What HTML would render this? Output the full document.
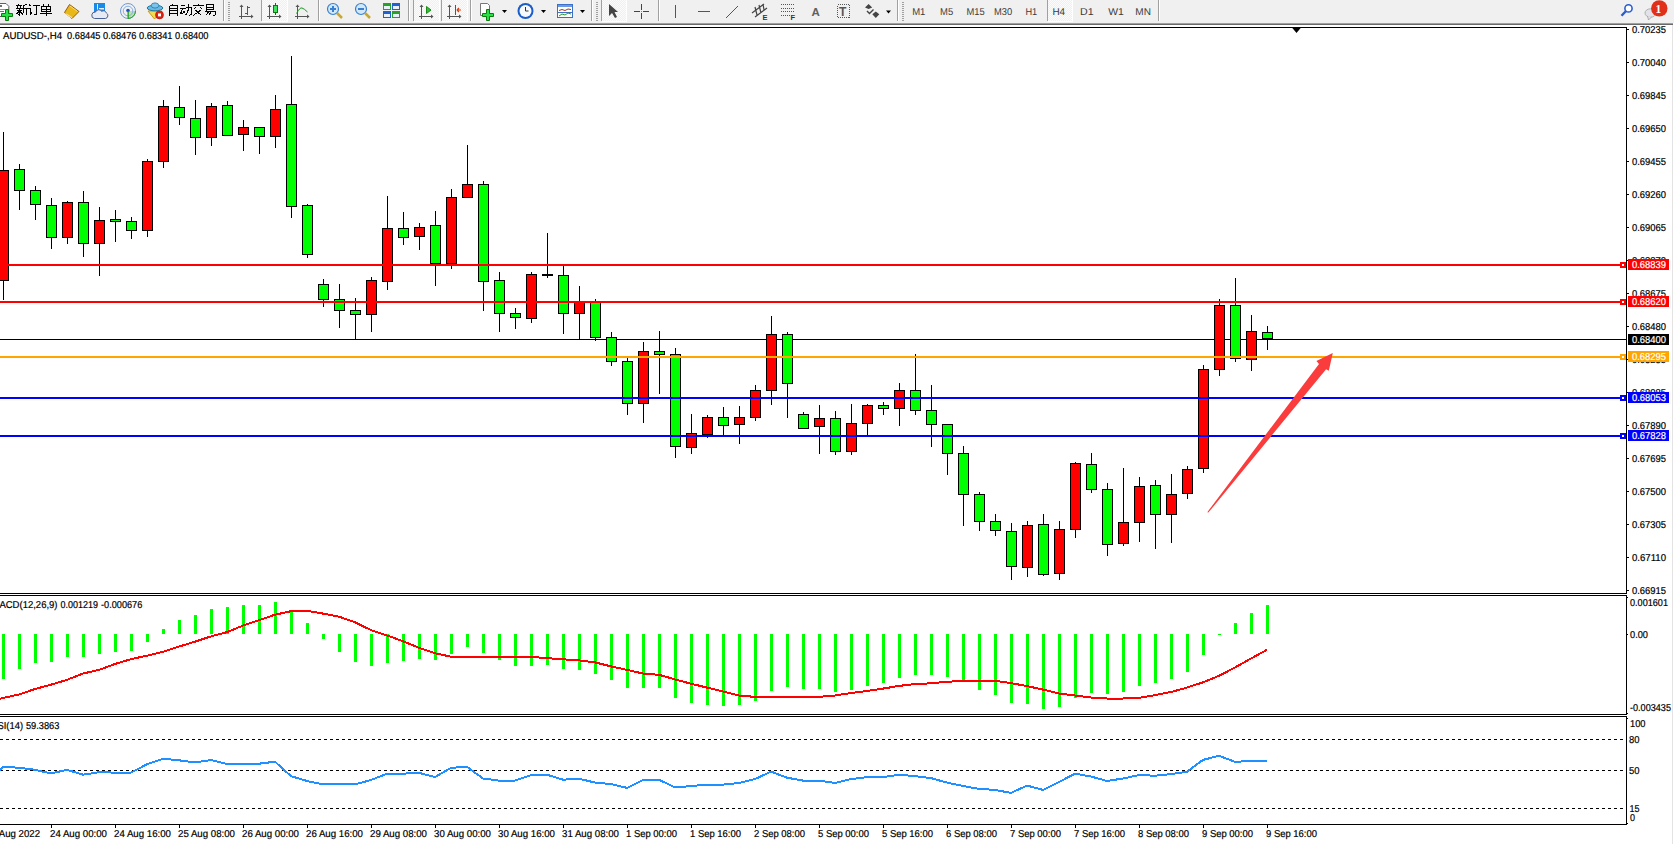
<!DOCTYPE html>
<html><head><meta charset="utf-8"><title>AUDUSD H4</title>
<style>
html,body{margin:0;padding:0;background:#fff;width:1674px;height:844px;overflow:hidden;font-family:"Liberation Sans",sans-serif}
svg{position:absolute;left:0;top:0;display:block}
</style></head><body>
<svg width="1674" height="844" viewBox="0 0 1674 844">
<defs><pattern id="chk" x="0" y="0" width="2" height="2" patternUnits="userSpaceOnUse"><rect width="2" height="2" fill="#f0f0f0"/><rect width="1" height="1" fill="#fbfbfb"/><rect x="1" y="1" width="1" height="1" fill="#fbfbfb"/></pattern></defs>
<g shape-rendering="crispEdges"><rect x="0" y="0" width="1674" height="23" fill="#f0f0f0"/>
<rect x="0" y="23" width="1673" height="1" fill="#a0a0a0"/>
<rect x="0" y="24" width="1673" height="1" fill="#6a6a6a"/>
<rect x="223" y="0" width="1" height="21" fill="#a0a0a0"/><rect x="224" y="0" width="1" height="21" fill="#fff"/>
<rect x="261" y="0" width="1" height="21" fill="#a0a0a0"/><rect x="262" y="0" width="1" height="21" fill="#fff"/>
<rect x="318" y="0" width="1" height="21" fill="#a0a0a0"/><rect x="319" y="0" width="1" height="21" fill="#fff"/>
<rect x="408" y="0" width="1" height="21" fill="#a0a0a0"/><rect x="409" y="0" width="1" height="21" fill="#fff"/>
<rect x="413" y="0" width="1" height="21" fill="#a0a0a0"/><rect x="414" y="0" width="1" height="21" fill="#fff"/>
<rect x="441" y="0" width="1" height="21" fill="#a0a0a0"/><rect x="442" y="0" width="1" height="21" fill="#fff"/>
<rect x="470" y="0" width="1" height="21" fill="#a0a0a0"/><rect x="471" y="0" width="1" height="21" fill="#fff"/>
<rect x="591" y="0" width="1" height="21" fill="#a0a0a0"/><rect x="592" y="0" width="1" height="21" fill="#fff"/>
<rect x="601" y="0" width="1" height="21" fill="#a0a0a0"/><rect x="602" y="0" width="1" height="21" fill="#fff"/>
<rect x="658" y="0" width="1" height="21" fill="#a0a0a0"/><rect x="659" y="0" width="1" height="21" fill="#fff"/>
<rect x="897" y="0" width="1" height="21" fill="#a0a0a0"/><rect x="898" y="0" width="1" height="21" fill="#fff"/>
<rect x="1047" y="0" width="1" height="21" fill="#a0a0a0"/><rect x="1048" y="0" width="1" height="21" fill="#fff"/>
<rect x="1158" y="0" width="1" height="21" fill="#a0a0a0"/><rect x="1159" y="0" width="1" height="21" fill="#fff"/>
<rect x="228" y="2" width="2" height="1" fill="#a0a0a0"/>
<rect x="228" y="4" width="2" height="1" fill="#a0a0a0"/>
<rect x="228" y="6" width="2" height="1" fill="#a0a0a0"/>
<rect x="228" y="8" width="2" height="1" fill="#a0a0a0"/>
<rect x="228" y="10" width="2" height="1" fill="#a0a0a0"/>
<rect x="228" y="12" width="2" height="1" fill="#a0a0a0"/>
<rect x="228" y="14" width="2" height="1" fill="#a0a0a0"/>
<rect x="228" y="16" width="2" height="1" fill="#a0a0a0"/>
<rect x="228" y="18" width="2" height="1" fill="#a0a0a0"/>
<rect x="228" y="20" width="2" height="1" fill="#a0a0a0"/>
<rect x="596" y="2" width="2" height="1" fill="#a0a0a0"/>
<rect x="596" y="4" width="2" height="1" fill="#a0a0a0"/>
<rect x="596" y="6" width="2" height="1" fill="#a0a0a0"/>
<rect x="596" y="8" width="2" height="1" fill="#a0a0a0"/>
<rect x="596" y="10" width="2" height="1" fill="#a0a0a0"/>
<rect x="596" y="12" width="2" height="1" fill="#a0a0a0"/>
<rect x="596" y="14" width="2" height="1" fill="#a0a0a0"/>
<rect x="596" y="16" width="2" height="1" fill="#a0a0a0"/>
<rect x="596" y="18" width="2" height="1" fill="#a0a0a0"/>
<rect x="596" y="20" width="2" height="1" fill="#a0a0a0"/>
<rect x="902" y="2" width="2" height="1" fill="#a0a0a0"/>
<rect x="902" y="4" width="2" height="1" fill="#a0a0a0"/>
<rect x="902" y="6" width="2" height="1" fill="#a0a0a0"/>
<rect x="902" y="8" width="2" height="1" fill="#a0a0a0"/>
<rect x="902" y="10" width="2" height="1" fill="#a0a0a0"/>
<rect x="902" y="12" width="2" height="1" fill="#a0a0a0"/>
<rect x="902" y="14" width="2" height="1" fill="#a0a0a0"/>
<rect x="902" y="16" width="2" height="1" fill="#a0a0a0"/>
<rect x="902" y="18" width="2" height="1" fill="#a0a0a0"/>
<rect x="902" y="20" width="2" height="1" fill="#a0a0a0"/>
<rect x="262" y="0" width="25" height="21" fill="url(#chk)"/>
<rect x="287" y="0" width="1" height="22" fill="#fff"/><rect x="262" y="21" width="26" height="1" fill="#fff"/>
<rect x="414" y="0" width="25" height="21" fill="url(#chk)"/>
<rect x="439" y="0" width="1" height="22" fill="#fff"/><rect x="414" y="21" width="26" height="1" fill="#fff"/>
<rect x="442" y="0" width="25" height="21" fill="url(#chk)"/>
<rect x="467" y="0" width="1" height="22" fill="#fff"/><rect x="442" y="21" width="26" height="1" fill="#fff"/>
<rect x="602" y="0" width="24" height="21" fill="url(#chk)"/>
<rect x="626" y="0" width="1" height="22" fill="#fff"/><rect x="602" y="21" width="25" height="1" fill="#fff"/>
<rect x="1048" y="0" width="24" height="21" fill="url(#chk)"/>
<rect x="1072" y="0" width="1" height="22" fill="#fff"/><rect x="1048" y="21" width="25" height="1" fill="#fff"/></g>

<!-- new order icon -->
<path d="M-1.5 3.5 h7.5 l2.8 2.8 v10.2 h-10.3 z" fill="#fff" stroke="#606060" stroke-width="1"/>
<rect x="0" y="5" width="2" height="2" fill="#707070"/><rect x="0" y="11" width="4" height="1" fill="#707070"/><rect x="-1" y="9" width="6" height="1" fill="#909090"/>
<path d="M5.5 9.5 h3 v4 h4 v3 h-4 v4 h-3 v-4 h-4 v-3 h4 z" fill="#28e048" stroke="#0a7a0a" stroke-width="1"/>
<!-- yellow book -->
<path d="M64.5 12.5 L69.5 4.5 L79 11.5 L72 18.5 Z" fill="#e8b818" stroke="#9a5a08" stroke-width="1"/>
<path d="M65.5 13.5 L72 17.8" stroke="#f6e0a0" stroke-width="1.2"/>
<path d="M70 6 L77.5 11.5" stroke="#f8e078" stroke-width="1"/>
<!-- cloud/blue icon -->
<rect x="94" y="3" width="11" height="10" fill="#1a8ae8"/>
<path d="M97.5 4 v9" stroke="#e0f0ff" stroke-width="1"/>
<rect x="99" y="8" width="5" height="1.5" fill="#e0f0ff"/>
<path d="M94.5 18.5 h11 a3 3 0 0 0 0.8 -5.6 a3 3 0 0 0 -4.6 -1.6 a3.5 3.5 0 0 0 -6.2 0.8 a3 3 0 0 0 -1 6.4 z" fill="#e6eaf2" stroke="#4a6090" stroke-width="1"/>
<!-- radar -->
<path d="M128 11 L128 18.5 A7.5 7.5 0 0 0 135.5 11 Z" fill="#b8e0b0"/>
<circle cx="128" cy="11" r="7.5" fill="none" stroke="#6f9ad8" stroke-width="1"/>
<circle cx="128" cy="11" r="4.8" fill="none" stroke="#8ab0e0" stroke-width="1"/>
<path d="M128 18.5 A7.5 7.5 0 0 0 135.5 11" fill="none" stroke="#3a9a3a" stroke-width="1"/>
<circle cx="128" cy="10.5" r="1.8" fill="#2050c0"/>
<rect x="127.5" y="11" width="1.3" height="7.5" fill="#20a020"/>
<!-- auto trading -->
<path d="M148 11 L162 11 L154.5 19 Z" fill="#f4dc50" stroke="#c89a18" stroke-width="1"/>
<ellipse cx="155" cy="8" rx="7.8" ry="2.8" fill="#6ab8e8" stroke="#1a7aa0" stroke-width="1"/>
<ellipse cx="155" cy="5.5" rx="3.8" ry="2.6" fill="#7cc4ec" stroke="#1a7aa0" stroke-width="0.8"/>
<circle cx="159.5" cy="14.9" r="4" fill="#e02010" stroke="#b01008" stroke-width="0.6"/><rect x="158" y="13.4" width="3" height="3" fill="#fff"/>
<!-- bar chart -->
<g fill="#555"><rect x="241" y="6" width="1" height="13"/><rect x="239" y="16" width="12" height="1"/><path d="M239.5 7 L241.5 4.5 L243.5 7 Z"/><path d="M251 14.5 L253.5 16.5 L251 18.5 Z"/></g><g fill="#118a11"><rect x="247" y="6" width="1" height="9"/><rect x="248" y="7" width="2" height="1"/><rect x="245" y="13" width="2" height="1"/></g>
<!-- candle icon -->
<g fill="#555"><rect x="269" y="6" width="1" height="13"/><rect x="267" y="16" width="12" height="1"/><path d="M267.5 7 L269.5 4.5 L271.5 7 Z"/><path d="M279 14.5 L281.5 16.5 L279 18.5 Z"/></g><rect x="275" y="3" width="1" height="12" fill="#0a7a0a"/><rect x="273.5" y="5.5" width="4" height="7" fill="#40e060" stroke="#0a7a0a" stroke-width="1"/>
<!-- line chart icon -->
<g fill="#555"><rect x="297" y="6" width="1" height="13"/><rect x="295" y="16" width="12" height="1"/><path d="M295.5 7 L297.5 4.5 L299.5 7 Z"/><path d="M307 14.5 L309.5 16.5 L307 18.5 Z"/></g><path d="M296.5 13.5 Q300 7 302 8 Q304 8.5 307.5 12" fill="none" stroke="#1a9a1a" stroke-width="1"/>
<!-- auto scroll -->
<g fill="#555"><rect x="421" y="6" width="1" height="13"/><rect x="419" y="16" width="12" height="1"/><path d="M419.5 7 L421.5 4.5 L423.5 7 Z"/><path d="M431 14.5 L433.5 16.5 L431 18.5 Z"/></g><path d="M426.5 6.5 L431 10 L426.5 13.5 Z" fill="#30c030" stroke="#1a8a1a" stroke-width="1"/>
<!-- chart shift -->
<g fill="#555"><rect x="449" y="6" width="1" height="13"/><rect x="447" y="16" width="12" height="1"/><path d="M447.5 7 L449.5 4.5 L451.5 7 Z"/><path d="M459 14.5 L461.5 16.5 L459 18.5 Z"/></g><rect x="455" y="5" width="1" height="10" fill="#2060b0"/><path d="M461 10 L457 10 M457 10 L459 8 M457 10 L459 12" stroke="#d04010" stroke-width="1.2"/>
<!-- zoom in/out -->
<circle cx="333" cy="9" r="5.5" fill="#d0e8f8" stroke="#3a80d0" stroke-width="1.2"/>
<path d="M337 13 L342 18" stroke="#c8a830" stroke-width="2.5"/>
<rect x="330" y="8" width="6" height="2" fill="#3a80d0"/><rect x="332" y="6" width="2" height="6" fill="#3a80d0"/>
<circle cx="361" cy="9" r="5.5" fill="#d0e8f8" stroke="#3a80d0" stroke-width="1.2"/>
<path d="M365 13 L370 18" stroke="#c8a830" stroke-width="2.5"/>
<rect x="358" y="8" width="6" height="2" fill="#3a80d0"/>
<!-- tile windows -->
<rect x="383" y="3" width="8" height="7" fill="#2aa02a"/><rect x="392" y="3" width="8" height="7" fill="#2060d0"/>
<rect x="383" y="11" width="8" height="7" fill="#2060d0"/><rect x="392" y="11" width="8" height="7" fill="#2aa02a"/>
<g fill="#e8f0f8"><rect x="384" y="6" width="6" height="3"/><rect x="393" y="6" width="6" height="3"/><rect x="384" y="14" width="6" height="3"/><rect x="393" y="14" width="6" height="3"/></g>
<!-- indicators -->
<path d="M480.5 3.5 h7 l2 2 v10 h-9 z" fill="#fff" stroke="#777" stroke-width="1"/>
<path d="M486.5 9.5 h3 v4 h4 v3 h-4 v4 h-3 v-4 h-4 v-3 h4 z" fill="#28e048" stroke="#0a7a0a" stroke-width="1"/>
<path d="M502 10 h5 l-2.5 3 z" fill="#000"/>
<!-- clock -->
<circle cx="525.5" cy="11" r="8" fill="#1a5cc8"/><circle cx="525.5" cy="11" r="6" fill="#f6f9fc"/>
<path d="M525.5 7 v4 h3" fill="none" stroke="#333" stroke-width="1"/>
<path d="M541 10 h5 l-2.5 3 z" fill="#000"/>
<!-- templates -->
<rect x="557.5" y="4.5" width="15" height="13" fill="#fff" stroke="#3a70c8" stroke-width="1"/>
<rect x="558" y="5" width="14" height="2" fill="#6a9ae0"/>
<path d="M559 10.5 l3 -1 l3 1 l3 -1.5 l3 0.5" fill="none" stroke="#b03020" stroke-width="1"/><rect x="558" y="12" width="14" height="1" fill="#3a70c8"/>
<path d="M559 16 l3 -2 l3 1 l3 -2 l3 1" fill="none" stroke="#20a020" stroke-width="1"/>
<path d="M580 10 h5 l-2.5 3 z" fill="#000"/>
<!-- cursor -->
<path d="M609 4 L609 16 L612 13 L615 18 L617 17 L614.5 12 L618 12 Z" fill="#444"/>
<!-- crosshair -->
<g fill="#444"><rect x="641" y="4" width="1" height="6"/><rect x="641" y="13" width="1" height="6"/><rect x="634" y="11" width="6" height="1"/><rect x="643" y="11" width="6" height="1"/><rect x="641" y="11" width="1" height="1" fill="#888"/></g>
<!-- vertical line -->
<rect x="675" y="5" width="1" height="13" fill="#555"/>
<!-- horizontal line -->
<rect x="698" y="11" width="12" height="1" fill="#555"/>
<!-- trendline -->
<path d="M726 18 L738 6" stroke="#555" stroke-width="1"/>
<!-- channel E -->
<path d="M752 13 L764 4 M755 17 L767 8 M755 7 L757 15 M759 5 L761 13 M763 4 L764 10" stroke="#444" stroke-width="1.2"/>
<text x="762.5" y="19.5" font-size="7.5" font-weight="bold" fill="#333" font-family="Liberation Sans, sans-serif">E</text>
<!-- fib F -->
<path d="M781 4.5 h13 M781 8.5 h13 M781 11.5 h13 M781 15.5 h9" stroke="#555" stroke-width="1" stroke-dasharray="1,1" shape-rendering="crispEdges"/>
<text x="790.5" y="19.5" font-size="7.5" font-weight="bold" fill="#333" font-family="Liberation Sans, sans-serif">F</text>
<!-- A -->
<text x="811.5" y="16" font-size="11.5" font-weight="bold" fill="#606060" font-family="Liberation Sans, sans-serif">A</text>
<!-- T box -->
<rect x="837.5" y="4.5" width="12" height="13" fill="none" stroke="#555" stroke-width="1" stroke-dasharray="1,1" shape-rendering="crispEdges"/>
<text x="839" y="16" font-size="12" font-weight="bold" fill="#555" font-family="Liberation Sans, sans-serif">T</text>
<!-- arrows -->
<path d="M865 7.5 L868.6 4 L872.2 7.5 L868.6 9 Z M872.3 14.3 L875.8 11.5 L879.3 14.3 L875.8 18 Z" fill="#444"/>
<path d="M867 11 L869.5 13.5 L873.5 9.5" fill="none" stroke="#444" stroke-width="1.4"/>
<path d="M886 10.5 h5 l-2.5 3 z" fill="#000"/>

<path transform="translate(16,4)" d="M2.5,0 v1.5 M0,1.5 h6 M1.5,2.5 l0.6,1.5 M4.5,2.5 l-0.6,1.5 M0,4.5 h6.5 M0.5,6.5 h5.5 M3.5,4.5 v6.5 l-1,-0.5 M3,7.5 l-2.5,2.5 M4,7.5 l1.8,1.8 M11,0.3 l-3.5,1.5 M7.5,1.8 v6 l-1.2,3 M7.5,4.5 h4.5 M10,4.5 v6.8" fill="none" stroke="#000" stroke-width="1" shape-rendering="crispEdges"/><path transform="translate(28,4)" d="M1,0.5 l1.3,1.5 M0.3,4.5 h2 v5.5 l1.6,-1.6 M4.5,1.5 h7.2 M8.5,1.5 v9.3 l-2,-0.6" fill="none" stroke="#000" stroke-width="1" shape-rendering="crispEdges"/><path transform="translate(40,4)" d="M3,0 l1,1.5 M9,0 l-1,1.5 M1.5,2.5 h9 v5 h-9 z M1.5,5 h9 M6,2.5 v9.5 M0,9 h12" fill="none" stroke="#000" stroke-width="1" shape-rendering="crispEdges"/><path transform="translate(168,4)" d="M5.2,0 l-0.8,1.5 M1.5,1.5 v10 M9.5,1.5 v10 M1.5,1.5 h8 M1.5,4 h8 M1.5,6.5 h8 M1.5,9.5 h8" fill="none" stroke="#000" stroke-width="1" shape-rendering="crispEdges"/><path transform="translate(180,4)" d="M0.8,1.5 h4 M0,4 h5.5 M2.8,4 l-2.2,5.5 l4.2,-0.8 M3.6,7 l1.5,2.2 M6,3.5 h5 v7 l-1.6,0.8 M8.5,0.3 v3.5 q0,4.5 -3,7.5" fill="none" stroke="#000" stroke-width="1" shape-rendering="crispEdges"/><path transform="translate(192,4)" d="M6,0 v1.2 M0.5,1.5 h11 M4,3 l-2.5,2.5 M8,3 l2.5,2.5 M3.2,6 l6.3,5.5 M8.8,6 l-7.5,5.5" fill="none" stroke="#000" stroke-width="1" shape-rendering="crispEdges"/><path transform="translate(204,4)" d="M2.5,0.5 h7 v5 h-7 z M2.5,3 h7 M2.5,6.3 l-2,2 M2,7.5 h9 v3.5 l-1.5,0.6 M4.8,7.5 l-2.8,3.8 M7.5,7.5 l-2.8,3.8" fill="none" stroke="#000" stroke-width="1" shape-rendering="crispEdges"/>
<text x="912.2" y="15" font-size="10" fill="#3a3a3a" textLength="13.2" lengthAdjust="spacingAndGlyphs" text-rendering="geometricPrecision" font-family="Liberation Sans, sans-serif">M1</text><text x="940.1" y="15" font-size="10" fill="#3a3a3a" textLength="13.1" lengthAdjust="spacingAndGlyphs" text-rendering="geometricPrecision" font-family="Liberation Sans, sans-serif">M5</text><text x="966.4" y="15" font-size="10" fill="#3a3a3a" textLength="18.200000000000003" lengthAdjust="spacingAndGlyphs" text-rendering="geometricPrecision" font-family="Liberation Sans, sans-serif">M15</text><text x="994.0" y="15" font-size="10" fill="#3a3a3a" textLength="18.200000000000003" lengthAdjust="spacingAndGlyphs" text-rendering="geometricPrecision" font-family="Liberation Sans, sans-serif">M30</text><text x="1025.3999999999999" y="15" font-size="10" fill="#3a3a3a" textLength="11.799999999999999" lengthAdjust="spacingAndGlyphs" text-rendering="geometricPrecision" font-family="Liberation Sans, sans-serif">H1</text><text x="1052.3999999999999" y="15" font-size="10" fill="#3a3a3a" textLength="12.7" lengthAdjust="spacingAndGlyphs" text-rendering="geometricPrecision" font-family="Liberation Sans, sans-serif">H4</text><text x="1080.1" y="15" font-size="10" fill="#3a3a3a" textLength="13.6" lengthAdjust="spacingAndGlyphs" text-rendering="geometricPrecision" font-family="Liberation Sans, sans-serif">D1</text><text x="1108.1999999999998" y="15" font-size="10" fill="#3a3a3a" textLength="15.6" lengthAdjust="spacingAndGlyphs" text-rendering="geometricPrecision" font-family="Liberation Sans, sans-serif">W1</text><text x="1135.3" y="15" font-size="10" fill="#3a3a3a" textLength="15.6" lengthAdjust="spacingAndGlyphs" text-rendering="geometricPrecision" font-family="Liberation Sans, sans-serif">MN</text>

<circle cx="1628.5" cy="8.4" r="3.6" fill="#fff" stroke="#2a5cd0" stroke-width="1.6"/>
<path d="M1625.8 11.2 L1621.5 15.8" stroke="#2a5cd0" stroke-width="2.4"/>
<ellipse cx="1650.5" cy="13" rx="5.5" ry="4.2" fill="#e2e2ea" stroke="#b0b0b0" stroke-width="1"/>
<path d="M1647.5 16 L1648.5 20 L1651.5 17" fill="#e2e2ea" stroke="#a0a0a0" stroke-width="0.8"/>
<circle cx="1659.3" cy="8.4" r="8.2" fill="#e0301a"/>
<text x="1655.6" y="12.9" font-size="11.5" font-weight="bold" fill="#fff" font-family="Liberation Serif, serif">1</text>

<g shape-rendering="crispEdges">
<rect x="0" y="27" width="1627" height="1" fill="#000"/>
<rect x="0" y="593" width="1627" height="1" fill="#000"/>
<rect x="1626" y="27" width="1" height="567" fill="#000"/>
<rect x="0" y="595" width="1627" height="1" fill="#000"/>
<rect x="0" y="714" width="1627" height="1" fill="#000"/>
<rect x="1626" y="595" width="1" height="120" fill="#000"/>
<rect x="0" y="716" width="1627" height="1" fill="#000"/>
<rect x="0" y="824" width="1627" height="1" fill="#000"/>
<rect x="1626" y="716" width="1" height="109" fill="#000"/>
<rect x="1672" y="25" width="1" height="819" fill="#e3e3e3"/>
<rect x="1627" y="29" width="2" height="1" fill="#000"/>
<rect x="1627" y="62" width="2" height="1" fill="#000"/>
<rect x="1627" y="95" width="2" height="1" fill="#000"/>
<rect x="1627" y="128" width="2" height="1" fill="#000"/>
<rect x="1627" y="161" width="2" height="1" fill="#000"/>
<rect x="1627" y="194" width="2" height="1" fill="#000"/>
<rect x="1627" y="227" width="2" height="1" fill="#000"/>
<rect x="1627" y="260" width="2" height="1" fill="#000"/>
<rect x="1627" y="293" width="2" height="1" fill="#000"/>
<rect x="1627" y="326" width="2" height="1" fill="#000"/>
<rect x="1627" y="359" width="2" height="1" fill="#000"/>
<rect x="1627" y="392" width="2" height="1" fill="#000"/>
<rect x="1627" y="425" width="2" height="1" fill="#000"/>
<rect x="1627" y="458" width="2" height="1" fill="#000"/>
<rect x="1627" y="491" width="2" height="1" fill="#000"/>
<rect x="1627" y="524" width="2" height="1" fill="#000"/>
<rect x="1627" y="557" width="2" height="1" fill="#000"/>
<rect x="1627" y="590" width="2" height="1" fill="#000"/>
<rect x="1627" y="597" width="1" height="1" fill="#000"/>
<rect x="1627" y="634" width="1" height="1" fill="#000"/>
<rect x="1627" y="713" width="1" height="1" fill="#000"/>
<rect x="1627" y="718" width="1" height="1" fill="#000"/>
<rect x="1627" y="823" width="1" height="1" fill="#000"/>
<rect x="51" y="825" width="1" height="3" fill="#000"/>
<rect x="115" y="825" width="1" height="3" fill="#000"/>
<rect x="179" y="825" width="1" height="3" fill="#000"/>
<rect x="243" y="825" width="1" height="3" fill="#000"/>
<rect x="307" y="825" width="1" height="3" fill="#000"/>
<rect x="371" y="825" width="1" height="3" fill="#000"/>
<rect x="435" y="825" width="1" height="3" fill="#000"/>
<rect x="499" y="825" width="1" height="3" fill="#000"/>
<rect x="563" y="825" width="1" height="3" fill="#000"/>
<rect x="627" y="825" width="1" height="3" fill="#000"/>
<rect x="691" y="825" width="1" height="3" fill="#000"/>
<rect x="755" y="825" width="1" height="3" fill="#000"/>
<rect x="819" y="825" width="1" height="3" fill="#000"/>
<rect x="883" y="825" width="1" height="3" fill="#000"/>
<rect x="947" y="825" width="1" height="3" fill="#000"/>
<rect x="1011" y="825" width="1" height="3" fill="#000"/>
<rect x="1075" y="825" width="1" height="3" fill="#000"/>
<rect x="1139" y="825" width="1" height="3" fill="#000"/>
<rect x="1203" y="825" width="1" height="3" fill="#000"/>
<rect x="1267" y="825" width="1" height="3" fill="#000"/>
<rect x="0" y="739" width="3" height="1" fill="#000"/>
<rect x="6" y="739" width="3" height="1" fill="#000"/>
<rect x="12" y="739" width="3" height="1" fill="#000"/>
<rect x="18" y="739" width="3" height="1" fill="#000"/>
<rect x="24" y="739" width="3" height="1" fill="#000"/>
<rect x="30" y="739" width="3" height="1" fill="#000"/>
<rect x="36" y="739" width="3" height="1" fill="#000"/>
<rect x="42" y="739" width="3" height="1" fill="#000"/>
<rect x="48" y="739" width="3" height="1" fill="#000"/>
<rect x="54" y="739" width="3" height="1" fill="#000"/>
<rect x="60" y="739" width="3" height="1" fill="#000"/>
<rect x="66" y="739" width="3" height="1" fill="#000"/>
<rect x="72" y="739" width="3" height="1" fill="#000"/>
<rect x="78" y="739" width="3" height="1" fill="#000"/>
<rect x="84" y="739" width="3" height="1" fill="#000"/>
<rect x="90" y="739" width="3" height="1" fill="#000"/>
<rect x="96" y="739" width="3" height="1" fill="#000"/>
<rect x="102" y="739" width="3" height="1" fill="#000"/>
<rect x="108" y="739" width="3" height="1" fill="#000"/>
<rect x="114" y="739" width="3" height="1" fill="#000"/>
<rect x="120" y="739" width="3" height="1" fill="#000"/>
<rect x="126" y="739" width="3" height="1" fill="#000"/>
<rect x="132" y="739" width="3" height="1" fill="#000"/>
<rect x="138" y="739" width="3" height="1" fill="#000"/>
<rect x="144" y="739" width="3" height="1" fill="#000"/>
<rect x="150" y="739" width="3" height="1" fill="#000"/>
<rect x="156" y="739" width="3" height="1" fill="#000"/>
<rect x="162" y="739" width="3" height="1" fill="#000"/>
<rect x="168" y="739" width="3" height="1" fill="#000"/>
<rect x="174" y="739" width="3" height="1" fill="#000"/>
<rect x="180" y="739" width="3" height="1" fill="#000"/>
<rect x="186" y="739" width="3" height="1" fill="#000"/>
<rect x="192" y="739" width="3" height="1" fill="#000"/>
<rect x="198" y="739" width="3" height="1" fill="#000"/>
<rect x="204" y="739" width="3" height="1" fill="#000"/>
<rect x="210" y="739" width="3" height="1" fill="#000"/>
<rect x="216" y="739" width="3" height="1" fill="#000"/>
<rect x="222" y="739" width="3" height="1" fill="#000"/>
<rect x="228" y="739" width="3" height="1" fill="#000"/>
<rect x="234" y="739" width="3" height="1" fill="#000"/>
<rect x="240" y="739" width="3" height="1" fill="#000"/>
<rect x="246" y="739" width="3" height="1" fill="#000"/>
<rect x="252" y="739" width="3" height="1" fill="#000"/>
<rect x="258" y="739" width="3" height="1" fill="#000"/>
<rect x="264" y="739" width="3" height="1" fill="#000"/>
<rect x="270" y="739" width="3" height="1" fill="#000"/>
<rect x="276" y="739" width="3" height="1" fill="#000"/>
<rect x="282" y="739" width="3" height="1" fill="#000"/>
<rect x="288" y="739" width="3" height="1" fill="#000"/>
<rect x="294" y="739" width="3" height="1" fill="#000"/>
<rect x="300" y="739" width="3" height="1" fill="#000"/>
<rect x="306" y="739" width="3" height="1" fill="#000"/>
<rect x="312" y="739" width="3" height="1" fill="#000"/>
<rect x="318" y="739" width="3" height="1" fill="#000"/>
<rect x="324" y="739" width="3" height="1" fill="#000"/>
<rect x="330" y="739" width="3" height="1" fill="#000"/>
<rect x="336" y="739" width="3" height="1" fill="#000"/>
<rect x="342" y="739" width="3" height="1" fill="#000"/>
<rect x="348" y="739" width="3" height="1" fill="#000"/>
<rect x="354" y="739" width="3" height="1" fill="#000"/>
<rect x="360" y="739" width="3" height="1" fill="#000"/>
<rect x="366" y="739" width="3" height="1" fill="#000"/>
<rect x="372" y="739" width="3" height="1" fill="#000"/>
<rect x="378" y="739" width="3" height="1" fill="#000"/>
<rect x="384" y="739" width="3" height="1" fill="#000"/>
<rect x="390" y="739" width="3" height="1" fill="#000"/>
<rect x="396" y="739" width="3" height="1" fill="#000"/>
<rect x="402" y="739" width="3" height="1" fill="#000"/>
<rect x="408" y="739" width="3" height="1" fill="#000"/>
<rect x="414" y="739" width="3" height="1" fill="#000"/>
<rect x="420" y="739" width="3" height="1" fill="#000"/>
<rect x="426" y="739" width="3" height="1" fill="#000"/>
<rect x="432" y="739" width="3" height="1" fill="#000"/>
<rect x="438" y="739" width="3" height="1" fill="#000"/>
<rect x="444" y="739" width="3" height="1" fill="#000"/>
<rect x="450" y="739" width="3" height="1" fill="#000"/>
<rect x="456" y="739" width="3" height="1" fill="#000"/>
<rect x="462" y="739" width="3" height="1" fill="#000"/>
<rect x="468" y="739" width="3" height="1" fill="#000"/>
<rect x="474" y="739" width="3" height="1" fill="#000"/>
<rect x="480" y="739" width="3" height="1" fill="#000"/>
<rect x="486" y="739" width="3" height="1" fill="#000"/>
<rect x="492" y="739" width="3" height="1" fill="#000"/>
<rect x="498" y="739" width="3" height="1" fill="#000"/>
<rect x="504" y="739" width="3" height="1" fill="#000"/>
<rect x="510" y="739" width="3" height="1" fill="#000"/>
<rect x="516" y="739" width="3" height="1" fill="#000"/>
<rect x="522" y="739" width="3" height="1" fill="#000"/>
<rect x="528" y="739" width="3" height="1" fill="#000"/>
<rect x="534" y="739" width="3" height="1" fill="#000"/>
<rect x="540" y="739" width="3" height="1" fill="#000"/>
<rect x="546" y="739" width="3" height="1" fill="#000"/>
<rect x="552" y="739" width="3" height="1" fill="#000"/>
<rect x="558" y="739" width="3" height="1" fill="#000"/>
<rect x="564" y="739" width="3" height="1" fill="#000"/>
<rect x="570" y="739" width="3" height="1" fill="#000"/>
<rect x="576" y="739" width="3" height="1" fill="#000"/>
<rect x="582" y="739" width="3" height="1" fill="#000"/>
<rect x="588" y="739" width="3" height="1" fill="#000"/>
<rect x="594" y="739" width="3" height="1" fill="#000"/>
<rect x="600" y="739" width="3" height="1" fill="#000"/>
<rect x="606" y="739" width="3" height="1" fill="#000"/>
<rect x="612" y="739" width="3" height="1" fill="#000"/>
<rect x="618" y="739" width="3" height="1" fill="#000"/>
<rect x="624" y="739" width="3" height="1" fill="#000"/>
<rect x="630" y="739" width="3" height="1" fill="#000"/>
<rect x="636" y="739" width="3" height="1" fill="#000"/>
<rect x="642" y="739" width="3" height="1" fill="#000"/>
<rect x="648" y="739" width="3" height="1" fill="#000"/>
<rect x="654" y="739" width="3" height="1" fill="#000"/>
<rect x="660" y="739" width="3" height="1" fill="#000"/>
<rect x="666" y="739" width="3" height="1" fill="#000"/>
<rect x="672" y="739" width="3" height="1" fill="#000"/>
<rect x="678" y="739" width="3" height="1" fill="#000"/>
<rect x="684" y="739" width="3" height="1" fill="#000"/>
<rect x="690" y="739" width="3" height="1" fill="#000"/>
<rect x="696" y="739" width="3" height="1" fill="#000"/>
<rect x="702" y="739" width="3" height="1" fill="#000"/>
<rect x="708" y="739" width="3" height="1" fill="#000"/>
<rect x="714" y="739" width="3" height="1" fill="#000"/>
<rect x="720" y="739" width="3" height="1" fill="#000"/>
<rect x="726" y="739" width="3" height="1" fill="#000"/>
<rect x="732" y="739" width="3" height="1" fill="#000"/>
<rect x="738" y="739" width="3" height="1" fill="#000"/>
<rect x="744" y="739" width="3" height="1" fill="#000"/>
<rect x="750" y="739" width="3" height="1" fill="#000"/>
<rect x="756" y="739" width="3" height="1" fill="#000"/>
<rect x="762" y="739" width="3" height="1" fill="#000"/>
<rect x="768" y="739" width="3" height="1" fill="#000"/>
<rect x="774" y="739" width="3" height="1" fill="#000"/>
<rect x="780" y="739" width="3" height="1" fill="#000"/>
<rect x="786" y="739" width="3" height="1" fill="#000"/>
<rect x="792" y="739" width="3" height="1" fill="#000"/>
<rect x="798" y="739" width="3" height="1" fill="#000"/>
<rect x="804" y="739" width="3" height="1" fill="#000"/>
<rect x="810" y="739" width="3" height="1" fill="#000"/>
<rect x="816" y="739" width="3" height="1" fill="#000"/>
<rect x="822" y="739" width="3" height="1" fill="#000"/>
<rect x="828" y="739" width="3" height="1" fill="#000"/>
<rect x="834" y="739" width="3" height="1" fill="#000"/>
<rect x="840" y="739" width="3" height="1" fill="#000"/>
<rect x="846" y="739" width="3" height="1" fill="#000"/>
<rect x="852" y="739" width="3" height="1" fill="#000"/>
<rect x="858" y="739" width="3" height="1" fill="#000"/>
<rect x="864" y="739" width="3" height="1" fill="#000"/>
<rect x="870" y="739" width="3" height="1" fill="#000"/>
<rect x="876" y="739" width="3" height="1" fill="#000"/>
<rect x="882" y="739" width="3" height="1" fill="#000"/>
<rect x="888" y="739" width="3" height="1" fill="#000"/>
<rect x="894" y="739" width="3" height="1" fill="#000"/>
<rect x="900" y="739" width="3" height="1" fill="#000"/>
<rect x="906" y="739" width="3" height="1" fill="#000"/>
<rect x="912" y="739" width="3" height="1" fill="#000"/>
<rect x="918" y="739" width="3" height="1" fill="#000"/>
<rect x="924" y="739" width="3" height="1" fill="#000"/>
<rect x="930" y="739" width="3" height="1" fill="#000"/>
<rect x="936" y="739" width="3" height="1" fill="#000"/>
<rect x="942" y="739" width="3" height="1" fill="#000"/>
<rect x="948" y="739" width="3" height="1" fill="#000"/>
<rect x="954" y="739" width="3" height="1" fill="#000"/>
<rect x="960" y="739" width="3" height="1" fill="#000"/>
<rect x="966" y="739" width="3" height="1" fill="#000"/>
<rect x="972" y="739" width="3" height="1" fill="#000"/>
<rect x="978" y="739" width="3" height="1" fill="#000"/>
<rect x="984" y="739" width="3" height="1" fill="#000"/>
<rect x="990" y="739" width="3" height="1" fill="#000"/>
<rect x="996" y="739" width="3" height="1" fill="#000"/>
<rect x="1002" y="739" width="3" height="1" fill="#000"/>
<rect x="1008" y="739" width="3" height="1" fill="#000"/>
<rect x="1014" y="739" width="3" height="1" fill="#000"/>
<rect x="1020" y="739" width="3" height="1" fill="#000"/>
<rect x="1026" y="739" width="3" height="1" fill="#000"/>
<rect x="1032" y="739" width="3" height="1" fill="#000"/>
<rect x="1038" y="739" width="3" height="1" fill="#000"/>
<rect x="1044" y="739" width="3" height="1" fill="#000"/>
<rect x="1050" y="739" width="3" height="1" fill="#000"/>
<rect x="1056" y="739" width="3" height="1" fill="#000"/>
<rect x="1062" y="739" width="3" height="1" fill="#000"/>
<rect x="1068" y="739" width="3" height="1" fill="#000"/>
<rect x="1074" y="739" width="3" height="1" fill="#000"/>
<rect x="1080" y="739" width="3" height="1" fill="#000"/>
<rect x="1086" y="739" width="3" height="1" fill="#000"/>
<rect x="1092" y="739" width="3" height="1" fill="#000"/>
<rect x="1098" y="739" width="3" height="1" fill="#000"/>
<rect x="1104" y="739" width="3" height="1" fill="#000"/>
<rect x="1110" y="739" width="3" height="1" fill="#000"/>
<rect x="1116" y="739" width="3" height="1" fill="#000"/>
<rect x="1122" y="739" width="3" height="1" fill="#000"/>
<rect x="1128" y="739" width="3" height="1" fill="#000"/>
<rect x="1134" y="739" width="3" height="1" fill="#000"/>
<rect x="1140" y="739" width="3" height="1" fill="#000"/>
<rect x="1146" y="739" width="3" height="1" fill="#000"/>
<rect x="1152" y="739" width="3" height="1" fill="#000"/>
<rect x="1158" y="739" width="3" height="1" fill="#000"/>
<rect x="1164" y="739" width="3" height="1" fill="#000"/>
<rect x="1170" y="739" width="3" height="1" fill="#000"/>
<rect x="1176" y="739" width="3" height="1" fill="#000"/>
<rect x="1182" y="739" width="3" height="1" fill="#000"/>
<rect x="1188" y="739" width="3" height="1" fill="#000"/>
<rect x="1194" y="739" width="3" height="1" fill="#000"/>
<rect x="1200" y="739" width="3" height="1" fill="#000"/>
<rect x="1206" y="739" width="3" height="1" fill="#000"/>
<rect x="1212" y="739" width="3" height="1" fill="#000"/>
<rect x="1218" y="739" width="3" height="1" fill="#000"/>
<rect x="1224" y="739" width="3" height="1" fill="#000"/>
<rect x="1230" y="739" width="3" height="1" fill="#000"/>
<rect x="1236" y="739" width="3" height="1" fill="#000"/>
<rect x="1242" y="739" width="3" height="1" fill="#000"/>
<rect x="1248" y="739" width="3" height="1" fill="#000"/>
<rect x="1254" y="739" width="3" height="1" fill="#000"/>
<rect x="1260" y="739" width="3" height="1" fill="#000"/>
<rect x="1266" y="739" width="3" height="1" fill="#000"/>
<rect x="1272" y="739" width="3" height="1" fill="#000"/>
<rect x="1278" y="739" width="3" height="1" fill="#000"/>
<rect x="1284" y="739" width="3" height="1" fill="#000"/>
<rect x="1290" y="739" width="3" height="1" fill="#000"/>
<rect x="1296" y="739" width="3" height="1" fill="#000"/>
<rect x="1302" y="739" width="3" height="1" fill="#000"/>
<rect x="1308" y="739" width="3" height="1" fill="#000"/>
<rect x="1314" y="739" width="3" height="1" fill="#000"/>
<rect x="1320" y="739" width="3" height="1" fill="#000"/>
<rect x="1326" y="739" width="3" height="1" fill="#000"/>
<rect x="1332" y="739" width="3" height="1" fill="#000"/>
<rect x="1338" y="739" width="3" height="1" fill="#000"/>
<rect x="1344" y="739" width="3" height="1" fill="#000"/>
<rect x="1350" y="739" width="3" height="1" fill="#000"/>
<rect x="1356" y="739" width="3" height="1" fill="#000"/>
<rect x="1362" y="739" width="3" height="1" fill="#000"/>
<rect x="1368" y="739" width="3" height="1" fill="#000"/>
<rect x="1374" y="739" width="3" height="1" fill="#000"/>
<rect x="1380" y="739" width="3" height="1" fill="#000"/>
<rect x="1386" y="739" width="3" height="1" fill="#000"/>
<rect x="1392" y="739" width="3" height="1" fill="#000"/>
<rect x="1398" y="739" width="3" height="1" fill="#000"/>
<rect x="1404" y="739" width="3" height="1" fill="#000"/>
<rect x="1410" y="739" width="3" height="1" fill="#000"/>
<rect x="1416" y="739" width="3" height="1" fill="#000"/>
<rect x="1422" y="739" width="3" height="1" fill="#000"/>
<rect x="1428" y="739" width="3" height="1" fill="#000"/>
<rect x="1434" y="739" width="3" height="1" fill="#000"/>
<rect x="1440" y="739" width="3" height="1" fill="#000"/>
<rect x="1446" y="739" width="3" height="1" fill="#000"/>
<rect x="1452" y="739" width="3" height="1" fill="#000"/>
<rect x="1458" y="739" width="3" height="1" fill="#000"/>
<rect x="1464" y="739" width="3" height="1" fill="#000"/>
<rect x="1470" y="739" width="3" height="1" fill="#000"/>
<rect x="1476" y="739" width="3" height="1" fill="#000"/>
<rect x="1482" y="739" width="3" height="1" fill="#000"/>
<rect x="1488" y="739" width="3" height="1" fill="#000"/>
<rect x="1494" y="739" width="3" height="1" fill="#000"/>
<rect x="1500" y="739" width="3" height="1" fill="#000"/>
<rect x="1506" y="739" width="3" height="1" fill="#000"/>
<rect x="1512" y="739" width="3" height="1" fill="#000"/>
<rect x="1518" y="739" width="3" height="1" fill="#000"/>
<rect x="1524" y="739" width="3" height="1" fill="#000"/>
<rect x="1530" y="739" width="3" height="1" fill="#000"/>
<rect x="1536" y="739" width="3" height="1" fill="#000"/>
<rect x="1542" y="739" width="3" height="1" fill="#000"/>
<rect x="1548" y="739" width="3" height="1" fill="#000"/>
<rect x="1554" y="739" width="3" height="1" fill="#000"/>
<rect x="1560" y="739" width="3" height="1" fill="#000"/>
<rect x="1566" y="739" width="3" height="1" fill="#000"/>
<rect x="1572" y="739" width="3" height="1" fill="#000"/>
<rect x="1578" y="739" width="3" height="1" fill="#000"/>
<rect x="1584" y="739" width="3" height="1" fill="#000"/>
<rect x="1590" y="739" width="3" height="1" fill="#000"/>
<rect x="1596" y="739" width="3" height="1" fill="#000"/>
<rect x="1602" y="739" width="3" height="1" fill="#000"/>
<rect x="1608" y="739" width="3" height="1" fill="#000"/>
<rect x="1614" y="739" width="3" height="1" fill="#000"/>
<rect x="1620" y="739" width="3" height="1" fill="#000"/>
<rect x="0" y="770" width="3" height="1" fill="#000"/>
<rect x="6" y="770" width="3" height="1" fill="#000"/>
<rect x="12" y="770" width="3" height="1" fill="#000"/>
<rect x="18" y="770" width="3" height="1" fill="#000"/>
<rect x="24" y="770" width="3" height="1" fill="#000"/>
<rect x="30" y="770" width="3" height="1" fill="#000"/>
<rect x="36" y="770" width="3" height="1" fill="#000"/>
<rect x="42" y="770" width="3" height="1" fill="#000"/>
<rect x="48" y="770" width="3" height="1" fill="#000"/>
<rect x="54" y="770" width="3" height="1" fill="#000"/>
<rect x="60" y="770" width="3" height="1" fill="#000"/>
<rect x="66" y="770" width="3" height="1" fill="#000"/>
<rect x="72" y="770" width="3" height="1" fill="#000"/>
<rect x="78" y="770" width="3" height="1" fill="#000"/>
<rect x="84" y="770" width="3" height="1" fill="#000"/>
<rect x="90" y="770" width="3" height="1" fill="#000"/>
<rect x="96" y="770" width="3" height="1" fill="#000"/>
<rect x="102" y="770" width="3" height="1" fill="#000"/>
<rect x="108" y="770" width="3" height="1" fill="#000"/>
<rect x="114" y="770" width="3" height="1" fill="#000"/>
<rect x="120" y="770" width="3" height="1" fill="#000"/>
<rect x="126" y="770" width="3" height="1" fill="#000"/>
<rect x="132" y="770" width="3" height="1" fill="#000"/>
<rect x="138" y="770" width="3" height="1" fill="#000"/>
<rect x="144" y="770" width="3" height="1" fill="#000"/>
<rect x="150" y="770" width="3" height="1" fill="#000"/>
<rect x="156" y="770" width="3" height="1" fill="#000"/>
<rect x="162" y="770" width="3" height="1" fill="#000"/>
<rect x="168" y="770" width="3" height="1" fill="#000"/>
<rect x="174" y="770" width="3" height="1" fill="#000"/>
<rect x="180" y="770" width="3" height="1" fill="#000"/>
<rect x="186" y="770" width="3" height="1" fill="#000"/>
<rect x="192" y="770" width="3" height="1" fill="#000"/>
<rect x="198" y="770" width="3" height="1" fill="#000"/>
<rect x="204" y="770" width="3" height="1" fill="#000"/>
<rect x="210" y="770" width="3" height="1" fill="#000"/>
<rect x="216" y="770" width="3" height="1" fill="#000"/>
<rect x="222" y="770" width="3" height="1" fill="#000"/>
<rect x="228" y="770" width="3" height="1" fill="#000"/>
<rect x="234" y="770" width="3" height="1" fill="#000"/>
<rect x="240" y="770" width="3" height="1" fill="#000"/>
<rect x="246" y="770" width="3" height="1" fill="#000"/>
<rect x="252" y="770" width="3" height="1" fill="#000"/>
<rect x="258" y="770" width="3" height="1" fill="#000"/>
<rect x="264" y="770" width="3" height="1" fill="#000"/>
<rect x="270" y="770" width="3" height="1" fill="#000"/>
<rect x="276" y="770" width="3" height="1" fill="#000"/>
<rect x="282" y="770" width="3" height="1" fill="#000"/>
<rect x="288" y="770" width="3" height="1" fill="#000"/>
<rect x="294" y="770" width="3" height="1" fill="#000"/>
<rect x="300" y="770" width="3" height="1" fill="#000"/>
<rect x="306" y="770" width="3" height="1" fill="#000"/>
<rect x="312" y="770" width="3" height="1" fill="#000"/>
<rect x="318" y="770" width="3" height="1" fill="#000"/>
<rect x="324" y="770" width="3" height="1" fill="#000"/>
<rect x="330" y="770" width="3" height="1" fill="#000"/>
<rect x="336" y="770" width="3" height="1" fill="#000"/>
<rect x="342" y="770" width="3" height="1" fill="#000"/>
<rect x="348" y="770" width="3" height="1" fill="#000"/>
<rect x="354" y="770" width="3" height="1" fill="#000"/>
<rect x="360" y="770" width="3" height="1" fill="#000"/>
<rect x="366" y="770" width="3" height="1" fill="#000"/>
<rect x="372" y="770" width="3" height="1" fill="#000"/>
<rect x="378" y="770" width="3" height="1" fill="#000"/>
<rect x="384" y="770" width="3" height="1" fill="#000"/>
<rect x="390" y="770" width="3" height="1" fill="#000"/>
<rect x="396" y="770" width="3" height="1" fill="#000"/>
<rect x="402" y="770" width="3" height="1" fill="#000"/>
<rect x="408" y="770" width="3" height="1" fill="#000"/>
<rect x="414" y="770" width="3" height="1" fill="#000"/>
<rect x="420" y="770" width="3" height="1" fill="#000"/>
<rect x="426" y="770" width="3" height="1" fill="#000"/>
<rect x="432" y="770" width="3" height="1" fill="#000"/>
<rect x="438" y="770" width="3" height="1" fill="#000"/>
<rect x="444" y="770" width="3" height="1" fill="#000"/>
<rect x="450" y="770" width="3" height="1" fill="#000"/>
<rect x="456" y="770" width="3" height="1" fill="#000"/>
<rect x="462" y="770" width="3" height="1" fill="#000"/>
<rect x="468" y="770" width="3" height="1" fill="#000"/>
<rect x="474" y="770" width="3" height="1" fill="#000"/>
<rect x="480" y="770" width="3" height="1" fill="#000"/>
<rect x="486" y="770" width="3" height="1" fill="#000"/>
<rect x="492" y="770" width="3" height="1" fill="#000"/>
<rect x="498" y="770" width="3" height="1" fill="#000"/>
<rect x="504" y="770" width="3" height="1" fill="#000"/>
<rect x="510" y="770" width="3" height="1" fill="#000"/>
<rect x="516" y="770" width="3" height="1" fill="#000"/>
<rect x="522" y="770" width="3" height="1" fill="#000"/>
<rect x="528" y="770" width="3" height="1" fill="#000"/>
<rect x="534" y="770" width="3" height="1" fill="#000"/>
<rect x="540" y="770" width="3" height="1" fill="#000"/>
<rect x="546" y="770" width="3" height="1" fill="#000"/>
<rect x="552" y="770" width="3" height="1" fill="#000"/>
<rect x="558" y="770" width="3" height="1" fill="#000"/>
<rect x="564" y="770" width="3" height="1" fill="#000"/>
<rect x="570" y="770" width="3" height="1" fill="#000"/>
<rect x="576" y="770" width="3" height="1" fill="#000"/>
<rect x="582" y="770" width="3" height="1" fill="#000"/>
<rect x="588" y="770" width="3" height="1" fill="#000"/>
<rect x="594" y="770" width="3" height="1" fill="#000"/>
<rect x="600" y="770" width="3" height="1" fill="#000"/>
<rect x="606" y="770" width="3" height="1" fill="#000"/>
<rect x="612" y="770" width="3" height="1" fill="#000"/>
<rect x="618" y="770" width="3" height="1" fill="#000"/>
<rect x="624" y="770" width="3" height="1" fill="#000"/>
<rect x="630" y="770" width="3" height="1" fill="#000"/>
<rect x="636" y="770" width="3" height="1" fill="#000"/>
<rect x="642" y="770" width="3" height="1" fill="#000"/>
<rect x="648" y="770" width="3" height="1" fill="#000"/>
<rect x="654" y="770" width="3" height="1" fill="#000"/>
<rect x="660" y="770" width="3" height="1" fill="#000"/>
<rect x="666" y="770" width="3" height="1" fill="#000"/>
<rect x="672" y="770" width="3" height="1" fill="#000"/>
<rect x="678" y="770" width="3" height="1" fill="#000"/>
<rect x="684" y="770" width="3" height="1" fill="#000"/>
<rect x="690" y="770" width="3" height="1" fill="#000"/>
<rect x="696" y="770" width="3" height="1" fill="#000"/>
<rect x="702" y="770" width="3" height="1" fill="#000"/>
<rect x="708" y="770" width="3" height="1" fill="#000"/>
<rect x="714" y="770" width="3" height="1" fill="#000"/>
<rect x="720" y="770" width="3" height="1" fill="#000"/>
<rect x="726" y="770" width="3" height="1" fill="#000"/>
<rect x="732" y="770" width="3" height="1" fill="#000"/>
<rect x="738" y="770" width="3" height="1" fill="#000"/>
<rect x="744" y="770" width="3" height="1" fill="#000"/>
<rect x="750" y="770" width="3" height="1" fill="#000"/>
<rect x="756" y="770" width="3" height="1" fill="#000"/>
<rect x="762" y="770" width="3" height="1" fill="#000"/>
<rect x="768" y="770" width="3" height="1" fill="#000"/>
<rect x="774" y="770" width="3" height="1" fill="#000"/>
<rect x="780" y="770" width="3" height="1" fill="#000"/>
<rect x="786" y="770" width="3" height="1" fill="#000"/>
<rect x="792" y="770" width="3" height="1" fill="#000"/>
<rect x="798" y="770" width="3" height="1" fill="#000"/>
<rect x="804" y="770" width="3" height="1" fill="#000"/>
<rect x="810" y="770" width="3" height="1" fill="#000"/>
<rect x="816" y="770" width="3" height="1" fill="#000"/>
<rect x="822" y="770" width="3" height="1" fill="#000"/>
<rect x="828" y="770" width="3" height="1" fill="#000"/>
<rect x="834" y="770" width="3" height="1" fill="#000"/>
<rect x="840" y="770" width="3" height="1" fill="#000"/>
<rect x="846" y="770" width="3" height="1" fill="#000"/>
<rect x="852" y="770" width="3" height="1" fill="#000"/>
<rect x="858" y="770" width="3" height="1" fill="#000"/>
<rect x="864" y="770" width="3" height="1" fill="#000"/>
<rect x="870" y="770" width="3" height="1" fill="#000"/>
<rect x="876" y="770" width="3" height="1" fill="#000"/>
<rect x="882" y="770" width="3" height="1" fill="#000"/>
<rect x="888" y="770" width="3" height="1" fill="#000"/>
<rect x="894" y="770" width="3" height="1" fill="#000"/>
<rect x="900" y="770" width="3" height="1" fill="#000"/>
<rect x="906" y="770" width="3" height="1" fill="#000"/>
<rect x="912" y="770" width="3" height="1" fill="#000"/>
<rect x="918" y="770" width="3" height="1" fill="#000"/>
<rect x="924" y="770" width="3" height="1" fill="#000"/>
<rect x="930" y="770" width="3" height="1" fill="#000"/>
<rect x="936" y="770" width="3" height="1" fill="#000"/>
<rect x="942" y="770" width="3" height="1" fill="#000"/>
<rect x="948" y="770" width="3" height="1" fill="#000"/>
<rect x="954" y="770" width="3" height="1" fill="#000"/>
<rect x="960" y="770" width="3" height="1" fill="#000"/>
<rect x="966" y="770" width="3" height="1" fill="#000"/>
<rect x="972" y="770" width="3" height="1" fill="#000"/>
<rect x="978" y="770" width="3" height="1" fill="#000"/>
<rect x="984" y="770" width="3" height="1" fill="#000"/>
<rect x="990" y="770" width="3" height="1" fill="#000"/>
<rect x="996" y="770" width="3" height="1" fill="#000"/>
<rect x="1002" y="770" width="3" height="1" fill="#000"/>
<rect x="1008" y="770" width="3" height="1" fill="#000"/>
<rect x="1014" y="770" width="3" height="1" fill="#000"/>
<rect x="1020" y="770" width="3" height="1" fill="#000"/>
<rect x="1026" y="770" width="3" height="1" fill="#000"/>
<rect x="1032" y="770" width="3" height="1" fill="#000"/>
<rect x="1038" y="770" width="3" height="1" fill="#000"/>
<rect x="1044" y="770" width="3" height="1" fill="#000"/>
<rect x="1050" y="770" width="3" height="1" fill="#000"/>
<rect x="1056" y="770" width="3" height="1" fill="#000"/>
<rect x="1062" y="770" width="3" height="1" fill="#000"/>
<rect x="1068" y="770" width="3" height="1" fill="#000"/>
<rect x="1074" y="770" width="3" height="1" fill="#000"/>
<rect x="1080" y="770" width="3" height="1" fill="#000"/>
<rect x="1086" y="770" width="3" height="1" fill="#000"/>
<rect x="1092" y="770" width="3" height="1" fill="#000"/>
<rect x="1098" y="770" width="3" height="1" fill="#000"/>
<rect x="1104" y="770" width="3" height="1" fill="#000"/>
<rect x="1110" y="770" width="3" height="1" fill="#000"/>
<rect x="1116" y="770" width="3" height="1" fill="#000"/>
<rect x="1122" y="770" width="3" height="1" fill="#000"/>
<rect x="1128" y="770" width="3" height="1" fill="#000"/>
<rect x="1134" y="770" width="3" height="1" fill="#000"/>
<rect x="1140" y="770" width="3" height="1" fill="#000"/>
<rect x="1146" y="770" width="3" height="1" fill="#000"/>
<rect x="1152" y="770" width="3" height="1" fill="#000"/>
<rect x="1158" y="770" width="3" height="1" fill="#000"/>
<rect x="1164" y="770" width="3" height="1" fill="#000"/>
<rect x="1170" y="770" width="3" height="1" fill="#000"/>
<rect x="1176" y="770" width="3" height="1" fill="#000"/>
<rect x="1182" y="770" width="3" height="1" fill="#000"/>
<rect x="1188" y="770" width="3" height="1" fill="#000"/>
<rect x="1194" y="770" width="3" height="1" fill="#000"/>
<rect x="1200" y="770" width="3" height="1" fill="#000"/>
<rect x="1206" y="770" width="3" height="1" fill="#000"/>
<rect x="1212" y="770" width="3" height="1" fill="#000"/>
<rect x="1218" y="770" width="3" height="1" fill="#000"/>
<rect x="1224" y="770" width="3" height="1" fill="#000"/>
<rect x="1230" y="770" width="3" height="1" fill="#000"/>
<rect x="1236" y="770" width="3" height="1" fill="#000"/>
<rect x="1242" y="770" width="3" height="1" fill="#000"/>
<rect x="1248" y="770" width="3" height="1" fill="#000"/>
<rect x="1254" y="770" width="3" height="1" fill="#000"/>
<rect x="1260" y="770" width="3" height="1" fill="#000"/>
<rect x="1266" y="770" width="3" height="1" fill="#000"/>
<rect x="1272" y="770" width="3" height="1" fill="#000"/>
<rect x="1278" y="770" width="3" height="1" fill="#000"/>
<rect x="1284" y="770" width="3" height="1" fill="#000"/>
<rect x="1290" y="770" width="3" height="1" fill="#000"/>
<rect x="1296" y="770" width="3" height="1" fill="#000"/>
<rect x="1302" y="770" width="3" height="1" fill="#000"/>
<rect x="1308" y="770" width="3" height="1" fill="#000"/>
<rect x="1314" y="770" width="3" height="1" fill="#000"/>
<rect x="1320" y="770" width="3" height="1" fill="#000"/>
<rect x="1326" y="770" width="3" height="1" fill="#000"/>
<rect x="1332" y="770" width="3" height="1" fill="#000"/>
<rect x="1338" y="770" width="3" height="1" fill="#000"/>
<rect x="1344" y="770" width="3" height="1" fill="#000"/>
<rect x="1350" y="770" width="3" height="1" fill="#000"/>
<rect x="1356" y="770" width="3" height="1" fill="#000"/>
<rect x="1362" y="770" width="3" height="1" fill="#000"/>
<rect x="1368" y="770" width="3" height="1" fill="#000"/>
<rect x="1374" y="770" width="3" height="1" fill="#000"/>
<rect x="1380" y="770" width="3" height="1" fill="#000"/>
<rect x="1386" y="770" width="3" height="1" fill="#000"/>
<rect x="1392" y="770" width="3" height="1" fill="#000"/>
<rect x="1398" y="770" width="3" height="1" fill="#000"/>
<rect x="1404" y="770" width="3" height="1" fill="#000"/>
<rect x="1410" y="770" width="3" height="1" fill="#000"/>
<rect x="1416" y="770" width="3" height="1" fill="#000"/>
<rect x="1422" y="770" width="3" height="1" fill="#000"/>
<rect x="1428" y="770" width="3" height="1" fill="#000"/>
<rect x="1434" y="770" width="3" height="1" fill="#000"/>
<rect x="1440" y="770" width="3" height="1" fill="#000"/>
<rect x="1446" y="770" width="3" height="1" fill="#000"/>
<rect x="1452" y="770" width="3" height="1" fill="#000"/>
<rect x="1458" y="770" width="3" height="1" fill="#000"/>
<rect x="1464" y="770" width="3" height="1" fill="#000"/>
<rect x="1470" y="770" width="3" height="1" fill="#000"/>
<rect x="1476" y="770" width="3" height="1" fill="#000"/>
<rect x="1482" y="770" width="3" height="1" fill="#000"/>
<rect x="1488" y="770" width="3" height="1" fill="#000"/>
<rect x="1494" y="770" width="3" height="1" fill="#000"/>
<rect x="1500" y="770" width="3" height="1" fill="#000"/>
<rect x="1506" y="770" width="3" height="1" fill="#000"/>
<rect x="1512" y="770" width="3" height="1" fill="#000"/>
<rect x="1518" y="770" width="3" height="1" fill="#000"/>
<rect x="1524" y="770" width="3" height="1" fill="#000"/>
<rect x="1530" y="770" width="3" height="1" fill="#000"/>
<rect x="1536" y="770" width="3" height="1" fill="#000"/>
<rect x="1542" y="770" width="3" height="1" fill="#000"/>
<rect x="1548" y="770" width="3" height="1" fill="#000"/>
<rect x="1554" y="770" width="3" height="1" fill="#000"/>
<rect x="1560" y="770" width="3" height="1" fill="#000"/>
<rect x="1566" y="770" width="3" height="1" fill="#000"/>
<rect x="1572" y="770" width="3" height="1" fill="#000"/>
<rect x="1578" y="770" width="3" height="1" fill="#000"/>
<rect x="1584" y="770" width="3" height="1" fill="#000"/>
<rect x="1590" y="770" width="3" height="1" fill="#000"/>
<rect x="1596" y="770" width="3" height="1" fill="#000"/>
<rect x="1602" y="770" width="3" height="1" fill="#000"/>
<rect x="1608" y="770" width="3" height="1" fill="#000"/>
<rect x="1614" y="770" width="3" height="1" fill="#000"/>
<rect x="1620" y="770" width="3" height="1" fill="#000"/>
<rect x="0" y="808" width="3" height="1" fill="#000"/>
<rect x="6" y="808" width="3" height="1" fill="#000"/>
<rect x="12" y="808" width="3" height="1" fill="#000"/>
<rect x="18" y="808" width="3" height="1" fill="#000"/>
<rect x="24" y="808" width="3" height="1" fill="#000"/>
<rect x="30" y="808" width="3" height="1" fill="#000"/>
<rect x="36" y="808" width="3" height="1" fill="#000"/>
<rect x="42" y="808" width="3" height="1" fill="#000"/>
<rect x="48" y="808" width="3" height="1" fill="#000"/>
<rect x="54" y="808" width="3" height="1" fill="#000"/>
<rect x="60" y="808" width="3" height="1" fill="#000"/>
<rect x="66" y="808" width="3" height="1" fill="#000"/>
<rect x="72" y="808" width="3" height="1" fill="#000"/>
<rect x="78" y="808" width="3" height="1" fill="#000"/>
<rect x="84" y="808" width="3" height="1" fill="#000"/>
<rect x="90" y="808" width="3" height="1" fill="#000"/>
<rect x="96" y="808" width="3" height="1" fill="#000"/>
<rect x="102" y="808" width="3" height="1" fill="#000"/>
<rect x="108" y="808" width="3" height="1" fill="#000"/>
<rect x="114" y="808" width="3" height="1" fill="#000"/>
<rect x="120" y="808" width="3" height="1" fill="#000"/>
<rect x="126" y="808" width="3" height="1" fill="#000"/>
<rect x="132" y="808" width="3" height="1" fill="#000"/>
<rect x="138" y="808" width="3" height="1" fill="#000"/>
<rect x="144" y="808" width="3" height="1" fill="#000"/>
<rect x="150" y="808" width="3" height="1" fill="#000"/>
<rect x="156" y="808" width="3" height="1" fill="#000"/>
<rect x="162" y="808" width="3" height="1" fill="#000"/>
<rect x="168" y="808" width="3" height="1" fill="#000"/>
<rect x="174" y="808" width="3" height="1" fill="#000"/>
<rect x="180" y="808" width="3" height="1" fill="#000"/>
<rect x="186" y="808" width="3" height="1" fill="#000"/>
<rect x="192" y="808" width="3" height="1" fill="#000"/>
<rect x="198" y="808" width="3" height="1" fill="#000"/>
<rect x="204" y="808" width="3" height="1" fill="#000"/>
<rect x="210" y="808" width="3" height="1" fill="#000"/>
<rect x="216" y="808" width="3" height="1" fill="#000"/>
<rect x="222" y="808" width="3" height="1" fill="#000"/>
<rect x="228" y="808" width="3" height="1" fill="#000"/>
<rect x="234" y="808" width="3" height="1" fill="#000"/>
<rect x="240" y="808" width="3" height="1" fill="#000"/>
<rect x="246" y="808" width="3" height="1" fill="#000"/>
<rect x="252" y="808" width="3" height="1" fill="#000"/>
<rect x="258" y="808" width="3" height="1" fill="#000"/>
<rect x="264" y="808" width="3" height="1" fill="#000"/>
<rect x="270" y="808" width="3" height="1" fill="#000"/>
<rect x="276" y="808" width="3" height="1" fill="#000"/>
<rect x="282" y="808" width="3" height="1" fill="#000"/>
<rect x="288" y="808" width="3" height="1" fill="#000"/>
<rect x="294" y="808" width="3" height="1" fill="#000"/>
<rect x="300" y="808" width="3" height="1" fill="#000"/>
<rect x="306" y="808" width="3" height="1" fill="#000"/>
<rect x="312" y="808" width="3" height="1" fill="#000"/>
<rect x="318" y="808" width="3" height="1" fill="#000"/>
<rect x="324" y="808" width="3" height="1" fill="#000"/>
<rect x="330" y="808" width="3" height="1" fill="#000"/>
<rect x="336" y="808" width="3" height="1" fill="#000"/>
<rect x="342" y="808" width="3" height="1" fill="#000"/>
<rect x="348" y="808" width="3" height="1" fill="#000"/>
<rect x="354" y="808" width="3" height="1" fill="#000"/>
<rect x="360" y="808" width="3" height="1" fill="#000"/>
<rect x="366" y="808" width="3" height="1" fill="#000"/>
<rect x="372" y="808" width="3" height="1" fill="#000"/>
<rect x="378" y="808" width="3" height="1" fill="#000"/>
<rect x="384" y="808" width="3" height="1" fill="#000"/>
<rect x="390" y="808" width="3" height="1" fill="#000"/>
<rect x="396" y="808" width="3" height="1" fill="#000"/>
<rect x="402" y="808" width="3" height="1" fill="#000"/>
<rect x="408" y="808" width="3" height="1" fill="#000"/>
<rect x="414" y="808" width="3" height="1" fill="#000"/>
<rect x="420" y="808" width="3" height="1" fill="#000"/>
<rect x="426" y="808" width="3" height="1" fill="#000"/>
<rect x="432" y="808" width="3" height="1" fill="#000"/>
<rect x="438" y="808" width="3" height="1" fill="#000"/>
<rect x="444" y="808" width="3" height="1" fill="#000"/>
<rect x="450" y="808" width="3" height="1" fill="#000"/>
<rect x="456" y="808" width="3" height="1" fill="#000"/>
<rect x="462" y="808" width="3" height="1" fill="#000"/>
<rect x="468" y="808" width="3" height="1" fill="#000"/>
<rect x="474" y="808" width="3" height="1" fill="#000"/>
<rect x="480" y="808" width="3" height="1" fill="#000"/>
<rect x="486" y="808" width="3" height="1" fill="#000"/>
<rect x="492" y="808" width="3" height="1" fill="#000"/>
<rect x="498" y="808" width="3" height="1" fill="#000"/>
<rect x="504" y="808" width="3" height="1" fill="#000"/>
<rect x="510" y="808" width="3" height="1" fill="#000"/>
<rect x="516" y="808" width="3" height="1" fill="#000"/>
<rect x="522" y="808" width="3" height="1" fill="#000"/>
<rect x="528" y="808" width="3" height="1" fill="#000"/>
<rect x="534" y="808" width="3" height="1" fill="#000"/>
<rect x="540" y="808" width="3" height="1" fill="#000"/>
<rect x="546" y="808" width="3" height="1" fill="#000"/>
<rect x="552" y="808" width="3" height="1" fill="#000"/>
<rect x="558" y="808" width="3" height="1" fill="#000"/>
<rect x="564" y="808" width="3" height="1" fill="#000"/>
<rect x="570" y="808" width="3" height="1" fill="#000"/>
<rect x="576" y="808" width="3" height="1" fill="#000"/>
<rect x="582" y="808" width="3" height="1" fill="#000"/>
<rect x="588" y="808" width="3" height="1" fill="#000"/>
<rect x="594" y="808" width="3" height="1" fill="#000"/>
<rect x="600" y="808" width="3" height="1" fill="#000"/>
<rect x="606" y="808" width="3" height="1" fill="#000"/>
<rect x="612" y="808" width="3" height="1" fill="#000"/>
<rect x="618" y="808" width="3" height="1" fill="#000"/>
<rect x="624" y="808" width="3" height="1" fill="#000"/>
<rect x="630" y="808" width="3" height="1" fill="#000"/>
<rect x="636" y="808" width="3" height="1" fill="#000"/>
<rect x="642" y="808" width="3" height="1" fill="#000"/>
<rect x="648" y="808" width="3" height="1" fill="#000"/>
<rect x="654" y="808" width="3" height="1" fill="#000"/>
<rect x="660" y="808" width="3" height="1" fill="#000"/>
<rect x="666" y="808" width="3" height="1" fill="#000"/>
<rect x="672" y="808" width="3" height="1" fill="#000"/>
<rect x="678" y="808" width="3" height="1" fill="#000"/>
<rect x="684" y="808" width="3" height="1" fill="#000"/>
<rect x="690" y="808" width="3" height="1" fill="#000"/>
<rect x="696" y="808" width="3" height="1" fill="#000"/>
<rect x="702" y="808" width="3" height="1" fill="#000"/>
<rect x="708" y="808" width="3" height="1" fill="#000"/>
<rect x="714" y="808" width="3" height="1" fill="#000"/>
<rect x="720" y="808" width="3" height="1" fill="#000"/>
<rect x="726" y="808" width="3" height="1" fill="#000"/>
<rect x="732" y="808" width="3" height="1" fill="#000"/>
<rect x="738" y="808" width="3" height="1" fill="#000"/>
<rect x="744" y="808" width="3" height="1" fill="#000"/>
<rect x="750" y="808" width="3" height="1" fill="#000"/>
<rect x="756" y="808" width="3" height="1" fill="#000"/>
<rect x="762" y="808" width="3" height="1" fill="#000"/>
<rect x="768" y="808" width="3" height="1" fill="#000"/>
<rect x="774" y="808" width="3" height="1" fill="#000"/>
<rect x="780" y="808" width="3" height="1" fill="#000"/>
<rect x="786" y="808" width="3" height="1" fill="#000"/>
<rect x="792" y="808" width="3" height="1" fill="#000"/>
<rect x="798" y="808" width="3" height="1" fill="#000"/>
<rect x="804" y="808" width="3" height="1" fill="#000"/>
<rect x="810" y="808" width="3" height="1" fill="#000"/>
<rect x="816" y="808" width="3" height="1" fill="#000"/>
<rect x="822" y="808" width="3" height="1" fill="#000"/>
<rect x="828" y="808" width="3" height="1" fill="#000"/>
<rect x="834" y="808" width="3" height="1" fill="#000"/>
<rect x="840" y="808" width="3" height="1" fill="#000"/>
<rect x="846" y="808" width="3" height="1" fill="#000"/>
<rect x="852" y="808" width="3" height="1" fill="#000"/>
<rect x="858" y="808" width="3" height="1" fill="#000"/>
<rect x="864" y="808" width="3" height="1" fill="#000"/>
<rect x="870" y="808" width="3" height="1" fill="#000"/>
<rect x="876" y="808" width="3" height="1" fill="#000"/>
<rect x="882" y="808" width="3" height="1" fill="#000"/>
<rect x="888" y="808" width="3" height="1" fill="#000"/>
<rect x="894" y="808" width="3" height="1" fill="#000"/>
<rect x="900" y="808" width="3" height="1" fill="#000"/>
<rect x="906" y="808" width="3" height="1" fill="#000"/>
<rect x="912" y="808" width="3" height="1" fill="#000"/>
<rect x="918" y="808" width="3" height="1" fill="#000"/>
<rect x="924" y="808" width="3" height="1" fill="#000"/>
<rect x="930" y="808" width="3" height="1" fill="#000"/>
<rect x="936" y="808" width="3" height="1" fill="#000"/>
<rect x="942" y="808" width="3" height="1" fill="#000"/>
<rect x="948" y="808" width="3" height="1" fill="#000"/>
<rect x="954" y="808" width="3" height="1" fill="#000"/>
<rect x="960" y="808" width="3" height="1" fill="#000"/>
<rect x="966" y="808" width="3" height="1" fill="#000"/>
<rect x="972" y="808" width="3" height="1" fill="#000"/>
<rect x="978" y="808" width="3" height="1" fill="#000"/>
<rect x="984" y="808" width="3" height="1" fill="#000"/>
<rect x="990" y="808" width="3" height="1" fill="#000"/>
<rect x="996" y="808" width="3" height="1" fill="#000"/>
<rect x="1002" y="808" width="3" height="1" fill="#000"/>
<rect x="1008" y="808" width="3" height="1" fill="#000"/>
<rect x="1014" y="808" width="3" height="1" fill="#000"/>
<rect x="1020" y="808" width="3" height="1" fill="#000"/>
<rect x="1026" y="808" width="3" height="1" fill="#000"/>
<rect x="1032" y="808" width="3" height="1" fill="#000"/>
<rect x="1038" y="808" width="3" height="1" fill="#000"/>
<rect x="1044" y="808" width="3" height="1" fill="#000"/>
<rect x="1050" y="808" width="3" height="1" fill="#000"/>
<rect x="1056" y="808" width="3" height="1" fill="#000"/>
<rect x="1062" y="808" width="3" height="1" fill="#000"/>
<rect x="1068" y="808" width="3" height="1" fill="#000"/>
<rect x="1074" y="808" width="3" height="1" fill="#000"/>
<rect x="1080" y="808" width="3" height="1" fill="#000"/>
<rect x="1086" y="808" width="3" height="1" fill="#000"/>
<rect x="1092" y="808" width="3" height="1" fill="#000"/>
<rect x="1098" y="808" width="3" height="1" fill="#000"/>
<rect x="1104" y="808" width="3" height="1" fill="#000"/>
<rect x="1110" y="808" width="3" height="1" fill="#000"/>
<rect x="1116" y="808" width="3" height="1" fill="#000"/>
<rect x="1122" y="808" width="3" height="1" fill="#000"/>
<rect x="1128" y="808" width="3" height="1" fill="#000"/>
<rect x="1134" y="808" width="3" height="1" fill="#000"/>
<rect x="1140" y="808" width="3" height="1" fill="#000"/>
<rect x="1146" y="808" width="3" height="1" fill="#000"/>
<rect x="1152" y="808" width="3" height="1" fill="#000"/>
<rect x="1158" y="808" width="3" height="1" fill="#000"/>
<rect x="1164" y="808" width="3" height="1" fill="#000"/>
<rect x="1170" y="808" width="3" height="1" fill="#000"/>
<rect x="1176" y="808" width="3" height="1" fill="#000"/>
<rect x="1182" y="808" width="3" height="1" fill="#000"/>
<rect x="1188" y="808" width="3" height="1" fill="#000"/>
<rect x="1194" y="808" width="3" height="1" fill="#000"/>
<rect x="1200" y="808" width="3" height="1" fill="#000"/>
<rect x="1206" y="808" width="3" height="1" fill="#000"/>
<rect x="1212" y="808" width="3" height="1" fill="#000"/>
<rect x="1218" y="808" width="3" height="1" fill="#000"/>
<rect x="1224" y="808" width="3" height="1" fill="#000"/>
<rect x="1230" y="808" width="3" height="1" fill="#000"/>
<rect x="1236" y="808" width="3" height="1" fill="#000"/>
<rect x="1242" y="808" width="3" height="1" fill="#000"/>
<rect x="1248" y="808" width="3" height="1" fill="#000"/>
<rect x="1254" y="808" width="3" height="1" fill="#000"/>
<rect x="1260" y="808" width="3" height="1" fill="#000"/>
<rect x="1266" y="808" width="3" height="1" fill="#000"/>
<rect x="1272" y="808" width="3" height="1" fill="#000"/>
<rect x="1278" y="808" width="3" height="1" fill="#000"/>
<rect x="1284" y="808" width="3" height="1" fill="#000"/>
<rect x="1290" y="808" width="3" height="1" fill="#000"/>
<rect x="1296" y="808" width="3" height="1" fill="#000"/>
<rect x="1302" y="808" width="3" height="1" fill="#000"/>
<rect x="1308" y="808" width="3" height="1" fill="#000"/>
<rect x="1314" y="808" width="3" height="1" fill="#000"/>
<rect x="1320" y="808" width="3" height="1" fill="#000"/>
<rect x="1326" y="808" width="3" height="1" fill="#000"/>
<rect x="1332" y="808" width="3" height="1" fill="#000"/>
<rect x="1338" y="808" width="3" height="1" fill="#000"/>
<rect x="1344" y="808" width="3" height="1" fill="#000"/>
<rect x="1350" y="808" width="3" height="1" fill="#000"/>
<rect x="1356" y="808" width="3" height="1" fill="#000"/>
<rect x="1362" y="808" width="3" height="1" fill="#000"/>
<rect x="1368" y="808" width="3" height="1" fill="#000"/>
<rect x="1374" y="808" width="3" height="1" fill="#000"/>
<rect x="1380" y="808" width="3" height="1" fill="#000"/>
<rect x="1386" y="808" width="3" height="1" fill="#000"/>
<rect x="1392" y="808" width="3" height="1" fill="#000"/>
<rect x="1398" y="808" width="3" height="1" fill="#000"/>
<rect x="1404" y="808" width="3" height="1" fill="#000"/>
<rect x="1410" y="808" width="3" height="1" fill="#000"/>
<rect x="1416" y="808" width="3" height="1" fill="#000"/>
<rect x="1422" y="808" width="3" height="1" fill="#000"/>
<rect x="1428" y="808" width="3" height="1" fill="#000"/>
<rect x="1434" y="808" width="3" height="1" fill="#000"/>
<rect x="1440" y="808" width="3" height="1" fill="#000"/>
<rect x="1446" y="808" width="3" height="1" fill="#000"/>
<rect x="1452" y="808" width="3" height="1" fill="#000"/>
<rect x="1458" y="808" width="3" height="1" fill="#000"/>
<rect x="1464" y="808" width="3" height="1" fill="#000"/>
<rect x="1470" y="808" width="3" height="1" fill="#000"/>
<rect x="1476" y="808" width="3" height="1" fill="#000"/>
<rect x="1482" y="808" width="3" height="1" fill="#000"/>
<rect x="1488" y="808" width="3" height="1" fill="#000"/>
<rect x="1494" y="808" width="3" height="1" fill="#000"/>
<rect x="1500" y="808" width="3" height="1" fill="#000"/>
<rect x="1506" y="808" width="3" height="1" fill="#000"/>
<rect x="1512" y="808" width="3" height="1" fill="#000"/>
<rect x="1518" y="808" width="3" height="1" fill="#000"/>
<rect x="1524" y="808" width="3" height="1" fill="#000"/>
<rect x="1530" y="808" width="3" height="1" fill="#000"/>
<rect x="1536" y="808" width="3" height="1" fill="#000"/>
<rect x="1542" y="808" width="3" height="1" fill="#000"/>
<rect x="1548" y="808" width="3" height="1" fill="#000"/>
<rect x="1554" y="808" width="3" height="1" fill="#000"/>
<rect x="1560" y="808" width="3" height="1" fill="#000"/>
<rect x="1566" y="808" width="3" height="1" fill="#000"/>
<rect x="1572" y="808" width="3" height="1" fill="#000"/>
<rect x="1578" y="808" width="3" height="1" fill="#000"/>
<rect x="1584" y="808" width="3" height="1" fill="#000"/>
<rect x="1590" y="808" width="3" height="1" fill="#000"/>
<rect x="1596" y="808" width="3" height="1" fill="#000"/>
<rect x="1602" y="808" width="3" height="1" fill="#000"/>
<rect x="1608" y="808" width="3" height="1" fill="#000"/>
<rect x="1614" y="808" width="3" height="1" fill="#000"/>
<rect x="1620" y="808" width="3" height="1" fill="#000"/>
<rect x="0" y="339" width="1626" height="1" fill="#000"/>
<rect x="3" y="132" width="1" height="168" fill="#000"/>
<rect x="-2" y="170" width="11" height="111" fill="#000"/>
<rect x="-1" y="171" width="9" height="109" fill="#ff0000"/>
<rect x="19" y="164" width="1" height="46" fill="#000"/>
<rect x="14" y="169" width="11" height="22" fill="#000"/>
<rect x="15" y="170" width="9" height="20" fill="#00ff00"/>
<rect x="35" y="186" width="1" height="34" fill="#000"/>
<rect x="30" y="190" width="11" height="15" fill="#000"/>
<rect x="31" y="191" width="9" height="13" fill="#00ff00"/>
<rect x="51" y="198" width="1" height="51" fill="#000"/>
<rect x="46" y="205" width="11" height="33" fill="#000"/>
<rect x="47" y="206" width="9" height="31" fill="#00ff00"/>
<rect x="67" y="201" width="1" height="43" fill="#000"/>
<rect x="62" y="202" width="11" height="36" fill="#000"/>
<rect x="63" y="203" width="9" height="34" fill="#ff0000"/>
<rect x="83" y="191" width="1" height="66" fill="#000"/>
<rect x="78" y="202" width="11" height="42" fill="#000"/>
<rect x="79" y="203" width="9" height="40" fill="#00ff00"/>
<rect x="99" y="207" width="1" height="69" fill="#000"/>
<rect x="94" y="220" width="11" height="24" fill="#000"/>
<rect x="95" y="221" width="9" height="22" fill="#ff0000"/>
<rect x="115" y="210" width="1" height="32" fill="#000"/>
<rect x="110" y="219" width="11" height="3" fill="#000"/>
<rect x="111" y="220" width="9" height="1" fill="#00ff00"/>
<rect x="131" y="217" width="1" height="22" fill="#000"/>
<rect x="126" y="221" width="11" height="10" fill="#000"/>
<rect x="127" y="222" width="9" height="8" fill="#00ff00"/>
<rect x="147" y="159" width="1" height="78" fill="#000"/>
<rect x="142" y="161" width="11" height="70" fill="#000"/>
<rect x="143" y="162" width="9" height="68" fill="#ff0000"/>
<rect x="163" y="100" width="1" height="68" fill="#000"/>
<rect x="158" y="106" width="11" height="56" fill="#000"/>
<rect x="159" y="107" width="9" height="54" fill="#ff0000"/>
<rect x="179" y="86" width="1" height="39" fill="#000"/>
<rect x="174" y="107" width="11" height="11" fill="#000"/>
<rect x="175" y="108" width="9" height="9" fill="#00ff00"/>
<rect x="195" y="100" width="1" height="55" fill="#000"/>
<rect x="190" y="118" width="11" height="20" fill="#000"/>
<rect x="191" y="119" width="9" height="18" fill="#00ff00"/>
<rect x="211" y="103" width="1" height="43" fill="#000"/>
<rect x="206" y="106" width="11" height="32" fill="#000"/>
<rect x="207" y="107" width="9" height="30" fill="#ff0000"/>
<rect x="227" y="101" width="1" height="35" fill="#000"/>
<rect x="222" y="105" width="11" height="31" fill="#000"/>
<rect x="223" y="106" width="9" height="29" fill="#00ff00"/>
<rect x="243" y="120" width="1" height="31" fill="#000"/>
<rect x="238" y="127" width="11" height="8" fill="#000"/>
<rect x="239" y="128" width="9" height="6" fill="#ff0000"/>
<rect x="259" y="127" width="1" height="27" fill="#000"/>
<rect x="254" y="127" width="11" height="10" fill="#000"/>
<rect x="255" y="128" width="9" height="8" fill="#00ff00"/>
<rect x="275" y="95" width="1" height="53" fill="#000"/>
<rect x="270" y="109" width="11" height="28" fill="#000"/>
<rect x="271" y="110" width="9" height="26" fill="#ff0000"/>
<rect x="291" y="56" width="1" height="162" fill="#000"/>
<rect x="286" y="104" width="11" height="103" fill="#000"/>
<rect x="287" y="105" width="9" height="101" fill="#00ff00"/>
<rect x="307" y="204" width="1" height="54" fill="#000"/>
<rect x="302" y="205" width="11" height="50" fill="#000"/>
<rect x="303" y="206" width="9" height="48" fill="#00ff00"/>
<rect x="323" y="279" width="1" height="28" fill="#000"/>
<rect x="318" y="284" width="11" height="16" fill="#000"/>
<rect x="319" y="285" width="9" height="14" fill="#00ff00"/>
<rect x="339" y="284" width="1" height="44" fill="#000"/>
<rect x="334" y="299" width="11" height="12" fill="#000"/>
<rect x="335" y="300" width="9" height="10" fill="#00ff00"/>
<rect x="355" y="298" width="1" height="41" fill="#000"/>
<rect x="350" y="310" width="11" height="5" fill="#000"/>
<rect x="351" y="311" width="9" height="3" fill="#00ff00"/>
<rect x="371" y="277" width="1" height="55" fill="#000"/>
<rect x="366" y="280" width="11" height="35" fill="#000"/>
<rect x="367" y="281" width="9" height="33" fill="#ff0000"/>
<rect x="387" y="196" width="1" height="94" fill="#000"/>
<rect x="382" y="228" width="11" height="54" fill="#000"/>
<rect x="383" y="229" width="9" height="52" fill="#ff0000"/>
<rect x="403" y="212" width="1" height="33" fill="#000"/>
<rect x="398" y="228" width="11" height="10" fill="#000"/>
<rect x="399" y="229" width="9" height="8" fill="#00ff00"/>
<rect x="419" y="223" width="1" height="27" fill="#000"/>
<rect x="414" y="227" width="11" height="10" fill="#000"/>
<rect x="415" y="228" width="9" height="8" fill="#ff0000"/>
<rect x="435" y="211" width="1" height="75" fill="#000"/>
<rect x="430" y="225" width="11" height="39" fill="#000"/>
<rect x="431" y="226" width="9" height="37" fill="#00ff00"/>
<rect x="451" y="189" width="1" height="80" fill="#000"/>
<rect x="446" y="197" width="11" height="67" fill="#000"/>
<rect x="447" y="198" width="9" height="65" fill="#ff0000"/>
<rect x="467" y="145" width="1" height="53" fill="#000"/>
<rect x="462" y="184" width="11" height="14" fill="#000"/>
<rect x="463" y="185" width="9" height="12" fill="#ff0000"/>
<rect x="483" y="181" width="1" height="130" fill="#000"/>
<rect x="478" y="184" width="11" height="98" fill="#000"/>
<rect x="479" y="185" width="9" height="96" fill="#00ff00"/>
<rect x="499" y="272" width="1" height="60" fill="#000"/>
<rect x="494" y="280" width="11" height="34" fill="#000"/>
<rect x="495" y="281" width="9" height="32" fill="#00ff00"/>
<rect x="515" y="308" width="1" height="21" fill="#000"/>
<rect x="510" y="313" width="11" height="5" fill="#000"/>
<rect x="511" y="314" width="9" height="3" fill="#00ff00"/>
<rect x="531" y="272" width="1" height="51" fill="#000"/>
<rect x="526" y="274" width="11" height="45" fill="#000"/>
<rect x="527" y="275" width="9" height="43" fill="#ff0000"/>
<rect x="547" y="233" width="1" height="45" fill="#000"/>
<rect x="542" y="274" width="11" height="2" fill="#000"/>
<rect x="563" y="266" width="1" height="68" fill="#000"/>
<rect x="558" y="275" width="11" height="39" fill="#000"/>
<rect x="559" y="276" width="9" height="37" fill="#00ff00"/>
<rect x="579" y="286" width="1" height="53" fill="#000"/>
<rect x="574" y="302" width="11" height="12" fill="#000"/>
<rect x="575" y="303" width="9" height="10" fill="#ff0000"/>
<rect x="595" y="299" width="1" height="42" fill="#000"/>
<rect x="590" y="302" width="11" height="36" fill="#000"/>
<rect x="591" y="303" width="9" height="34" fill="#00ff00"/>
<rect x="611" y="332" width="1" height="34" fill="#000"/>
<rect x="606" y="337" width="11" height="25" fill="#000"/>
<rect x="607" y="338" width="9" height="23" fill="#00ff00"/>
<rect x="627" y="358" width="1" height="57" fill="#000"/>
<rect x="622" y="361" width="11" height="43" fill="#000"/>
<rect x="623" y="362" width="9" height="41" fill="#00ff00"/>
<rect x="643" y="342" width="1" height="81" fill="#000"/>
<rect x="638" y="351" width="11" height="53" fill="#000"/>
<rect x="639" y="352" width="9" height="51" fill="#ff0000"/>
<rect x="659" y="331" width="1" height="63" fill="#000"/>
<rect x="654" y="351" width="11" height="4" fill="#000"/>
<rect x="655" y="352" width="9" height="2" fill="#00ff00"/>
<rect x="675" y="348" width="1" height="110" fill="#000"/>
<rect x="670" y="354" width="11" height="93" fill="#000"/>
<rect x="671" y="355" width="9" height="91" fill="#00ff00"/>
<rect x="691" y="414" width="1" height="40" fill="#000"/>
<rect x="686" y="433" width="11" height="15" fill="#000"/>
<rect x="687" y="434" width="9" height="13" fill="#ff0000"/>
<rect x="707" y="415" width="1" height="23" fill="#000"/>
<rect x="702" y="417" width="11" height="18" fill="#000"/>
<rect x="703" y="418" width="9" height="16" fill="#ff0000"/>
<rect x="723" y="407" width="1" height="30" fill="#000"/>
<rect x="718" y="417" width="11" height="9" fill="#000"/>
<rect x="719" y="418" width="9" height="7" fill="#00ff00"/>
<rect x="739" y="406" width="1" height="38" fill="#000"/>
<rect x="734" y="417" width="11" height="8" fill="#000"/>
<rect x="735" y="418" width="9" height="6" fill="#ff0000"/>
<rect x="755" y="385" width="1" height="36" fill="#000"/>
<rect x="750" y="390" width="11" height="28" fill="#000"/>
<rect x="751" y="391" width="9" height="26" fill="#ff0000"/>
<rect x="771" y="316" width="1" height="89" fill="#000"/>
<rect x="766" y="334" width="11" height="57" fill="#000"/>
<rect x="767" y="335" width="9" height="55" fill="#ff0000"/>
<rect x="787" y="332" width="1" height="86" fill="#000"/>
<rect x="782" y="334" width="11" height="50" fill="#000"/>
<rect x="783" y="335" width="9" height="48" fill="#00ff00"/>
<rect x="803" y="412" width="1" height="16" fill="#000"/>
<rect x="798" y="414" width="11" height="15" fill="#000"/>
<rect x="799" y="415" width="9" height="13" fill="#00ff00"/>
<rect x="819" y="405" width="1" height="49" fill="#000"/>
<rect x="814" y="418" width="11" height="9" fill="#000"/>
<rect x="815" y="419" width="9" height="7" fill="#ff0000"/>
<rect x="835" y="411" width="1" height="44" fill="#000"/>
<rect x="830" y="418" width="11" height="34" fill="#000"/>
<rect x="831" y="419" width="9" height="32" fill="#00ff00"/>
<rect x="851" y="404" width="1" height="51" fill="#000"/>
<rect x="846" y="423" width="11" height="29" fill="#000"/>
<rect x="847" y="424" width="9" height="27" fill="#ff0000"/>
<rect x="867" y="404" width="1" height="31" fill="#000"/>
<rect x="862" y="405" width="11" height="19" fill="#000"/>
<rect x="863" y="406" width="9" height="17" fill="#ff0000"/>
<rect x="883" y="402" width="1" height="13" fill="#000"/>
<rect x="878" y="405" width="11" height="4" fill="#000"/>
<rect x="879" y="406" width="9" height="2" fill="#00ff00"/>
<rect x="899" y="383" width="1" height="43" fill="#000"/>
<rect x="894" y="390" width="11" height="19" fill="#000"/>
<rect x="895" y="391" width="9" height="17" fill="#ff0000"/>
<rect x="915" y="354" width="1" height="61" fill="#000"/>
<rect x="910" y="390" width="11" height="21" fill="#000"/>
<rect x="911" y="391" width="9" height="19" fill="#00ff00"/>
<rect x="931" y="385" width="1" height="62" fill="#000"/>
<rect x="926" y="410" width="11" height="15" fill="#000"/>
<rect x="927" y="411" width="9" height="13" fill="#00ff00"/>
<rect x="947" y="424" width="1" height="51" fill="#000"/>
<rect x="942" y="424" width="11" height="30" fill="#000"/>
<rect x="943" y="425" width="9" height="28" fill="#00ff00"/>
<rect x="963" y="446" width="1" height="80" fill="#000"/>
<rect x="958" y="453" width="11" height="42" fill="#000"/>
<rect x="959" y="454" width="9" height="40" fill="#00ff00"/>
<rect x="979" y="492" width="1" height="39" fill="#000"/>
<rect x="974" y="494" width="11" height="28" fill="#000"/>
<rect x="975" y="495" width="9" height="26" fill="#00ff00"/>
<rect x="995" y="514" width="1" height="22" fill="#000"/>
<rect x="990" y="521" width="11" height="10" fill="#000"/>
<rect x="991" y="522" width="9" height="8" fill="#00ff00"/>
<rect x="1011" y="523" width="1" height="57" fill="#000"/>
<rect x="1006" y="531" width="11" height="36" fill="#000"/>
<rect x="1007" y="532" width="9" height="34" fill="#00ff00"/>
<rect x="1027" y="521" width="1" height="56" fill="#000"/>
<rect x="1022" y="525" width="11" height="43" fill="#000"/>
<rect x="1023" y="526" width="9" height="41" fill="#ff0000"/>
<rect x="1043" y="514" width="1" height="62" fill="#000"/>
<rect x="1038" y="524" width="11" height="51" fill="#000"/>
<rect x="1039" y="525" width="9" height="49" fill="#00ff00"/>
<rect x="1059" y="521" width="1" height="59" fill="#000"/>
<rect x="1054" y="529" width="11" height="45" fill="#000"/>
<rect x="1055" y="530" width="9" height="43" fill="#ff0000"/>
<rect x="1075" y="462" width="1" height="76" fill="#000"/>
<rect x="1070" y="463" width="11" height="67" fill="#000"/>
<rect x="1071" y="464" width="9" height="65" fill="#ff0000"/>
<rect x="1091" y="453" width="1" height="40" fill="#000"/>
<rect x="1086" y="464" width="11" height="26" fill="#000"/>
<rect x="1087" y="465" width="9" height="24" fill="#00ff00"/>
<rect x="1107" y="483" width="1" height="73" fill="#000"/>
<rect x="1102" y="489" width="11" height="56" fill="#000"/>
<rect x="1103" y="490" width="9" height="54" fill="#00ff00"/>
<rect x="1123" y="468" width="1" height="78" fill="#000"/>
<rect x="1118" y="522" width="11" height="22" fill="#000"/>
<rect x="1119" y="523" width="9" height="20" fill="#ff0000"/>
<rect x="1139" y="477" width="1" height="65" fill="#000"/>
<rect x="1134" y="486" width="11" height="37" fill="#000"/>
<rect x="1135" y="487" width="9" height="35" fill="#ff0000"/>
<rect x="1155" y="480" width="1" height="69" fill="#000"/>
<rect x="1150" y="485" width="11" height="30" fill="#000"/>
<rect x="1151" y="486" width="9" height="28" fill="#00ff00"/>
<rect x="1171" y="474" width="1" height="69" fill="#000"/>
<rect x="1166" y="494" width="11" height="21" fill="#000"/>
<rect x="1167" y="495" width="9" height="19" fill="#ff0000"/>
<rect x="1187" y="466" width="1" height="33" fill="#000"/>
<rect x="1182" y="469" width="11" height="25" fill="#000"/>
<rect x="1183" y="470" width="9" height="23" fill="#ff0000"/>
<rect x="1203" y="365" width="1" height="108" fill="#000"/>
<rect x="1198" y="369" width="11" height="100" fill="#000"/>
<rect x="1199" y="370" width="9" height="98" fill="#ff0000"/>
<rect x="1219" y="299" width="1" height="77" fill="#000"/>
<rect x="1214" y="305" width="11" height="65" fill="#000"/>
<rect x="1215" y="306" width="9" height="63" fill="#ff0000"/>
<rect x="1235" y="278" width="1" height="84" fill="#000"/>
<rect x="1230" y="305" width="11" height="54" fill="#000"/>
<rect x="1231" y="306" width="9" height="52" fill="#00ff00"/>
<rect x="1251" y="315" width="1" height="56" fill="#000"/>
<rect x="1246" y="331" width="11" height="29" fill="#000"/>
<rect x="1247" y="332" width="9" height="27" fill="#ff0000"/>
<rect x="1267" y="326" width="1" height="24" fill="#000"/>
<rect x="1262" y="332" width="11" height="7" fill="#000"/>
<rect x="1263" y="333" width="9" height="5" fill="#00ff00"/>
<rect x="0" y="264" width="1620" height="2" fill="#ff0000"/>
<rect x="1620" y="262" width="6" height="6" fill="#ff0000"/>
<rect x="1622" y="264" width="2" height="2" fill="#fff"/>
<rect x="0" y="301" width="1620" height="2" fill="#ff0000"/>
<rect x="1620" y="299" width="6" height="6" fill="#ff0000"/>
<rect x="1622" y="301" width="2" height="2" fill="#fff"/>
<rect x="0" y="356" width="1620" height="2" fill="#ffa500"/>
<rect x="1620" y="354" width="6" height="6" fill="#ffa500"/>
<rect x="1622" y="356" width="2" height="2" fill="#fff"/>
<rect x="0" y="397" width="1620" height="2" fill="#0000ff"/>
<rect x="1620" y="395" width="6" height="6" fill="#0000ff"/>
<rect x="1622" y="397" width="2" height="2" fill="#fff"/>
<rect x="0" y="435" width="1620" height="2" fill="#0000ff"/>
<rect x="1620" y="433" width="6" height="6" fill="#0000ff"/>
<rect x="1622" y="435" width="2" height="2" fill="#fff"/>
</g>
<polygon points="1291.5,27 1301.5,27 1296.5,33" fill="#000"/>
<g shape-rendering="crispEdges">
<rect x="2" y="634" width="3" height="45" fill="#00ff00"/>
<rect x="18" y="634" width="3" height="35" fill="#00ff00"/>
<rect x="34" y="634" width="3" height="29" fill="#00ff00"/>
<rect x="50" y="634" width="3" height="28" fill="#00ff00"/>
<rect x="66" y="634" width="3" height="23" fill="#00ff00"/>
<rect x="82" y="634" width="3" height="23" fill="#00ff00"/>
<rect x="98" y="634" width="3" height="20" fill="#00ff00"/>
<rect x="114" y="634" width="3" height="18" fill="#00ff00"/>
<rect x="130" y="634" width="3" height="17" fill="#00ff00"/>
<rect x="146" y="634" width="3" height="8" fill="#00ff00"/>
<rect x="162" y="629" width="3" height="5" fill="#00ff00"/>
<rect x="178" y="620" width="3" height="14" fill="#00ff00"/>
<rect x="194" y="615" width="3" height="19" fill="#00ff00"/>
<rect x="210" y="609" width="3" height="25" fill="#00ff00"/>
<rect x="226" y="607" width="3" height="27" fill="#00ff00"/>
<rect x="242" y="605" width="3" height="29" fill="#00ff00"/>
<rect x="258" y="605" width="3" height="29" fill="#00ff00"/>
<rect x="274" y="602" width="3" height="32" fill="#00ff00"/>
<rect x="290" y="612" width="3" height="22" fill="#00ff00"/>
<rect x="306" y="623" width="3" height="11" fill="#00ff00"/>
<rect x="322" y="634" width="3" height="5" fill="#00ff00"/>
<rect x="338" y="634" width="3" height="18" fill="#00ff00"/>
<rect x="354" y="634" width="3" height="28" fill="#00ff00"/>
<rect x="370" y="634" width="3" height="32" fill="#00ff00"/>
<rect x="386" y="634" width="3" height="29" fill="#00ff00"/>
<rect x="402" y="634" width="3" height="27" fill="#00ff00"/>
<rect x="418" y="634" width="3" height="25" fill="#00ff00"/>
<rect x="434" y="634" width="3" height="26" fill="#00ff00"/>
<rect x="450" y="634" width="3" height="20" fill="#00ff00"/>
<rect x="466" y="634" width="3" height="13" fill="#00ff00"/>
<rect x="482" y="634" width="3" height="19" fill="#00ff00"/>
<rect x="498" y="634" width="3" height="26" fill="#00ff00"/>
<rect x="514" y="634" width="3" height="32" fill="#00ff00"/>
<rect x="530" y="634" width="3" height="32" fill="#00ff00"/>
<rect x="546" y="634" width="3" height="31" fill="#00ff00"/>
<rect x="562" y="634" width="3" height="35" fill="#00ff00"/>
<rect x="578" y="634" width="3" height="36" fill="#00ff00"/>
<rect x="594" y="634" width="3" height="40" fill="#00ff00"/>
<rect x="610" y="634" width="3" height="46" fill="#00ff00"/>
<rect x="626" y="634" width="3" height="54" fill="#00ff00"/>
<rect x="642" y="634" width="3" height="54" fill="#00ff00"/>
<rect x="658" y="634" width="3" height="54" fill="#00ff00"/>
<rect x="674" y="634" width="3" height="64" fill="#00ff00"/>
<rect x="690" y="634" width="3" height="69" fill="#00ff00"/>
<rect x="706" y="634" width="3" height="71" fill="#00ff00"/>
<rect x="722" y="634" width="3" height="72" fill="#00ff00"/>
<rect x="738" y="634" width="3" height="71" fill="#00ff00"/>
<rect x="754" y="634" width="3" height="67" fill="#00ff00"/>
<rect x="770" y="634" width="3" height="57" fill="#00ff00"/>
<rect x="786" y="634" width="3" height="53" fill="#00ff00"/>
<rect x="802" y="634" width="3" height="55" fill="#00ff00"/>
<rect x="818" y="634" width="3" height="55" fill="#00ff00"/>
<rect x="834" y="634" width="3" height="58" fill="#00ff00"/>
<rect x="850" y="634" width="3" height="56" fill="#00ff00"/>
<rect x="866" y="634" width="3" height="52" fill="#00ff00"/>
<rect x="882" y="634" width="3" height="49" fill="#00ff00"/>
<rect x="898" y="634" width="3" height="44" fill="#00ff00"/>
<rect x="914" y="634" width="3" height="41" fill="#00ff00"/>
<rect x="930" y="634" width="3" height="41" fill="#00ff00"/>
<rect x="946" y="634" width="3" height="43" fill="#00ff00"/>
<rect x="962" y="634" width="3" height="48" fill="#00ff00"/>
<rect x="978" y="634" width="3" height="56" fill="#00ff00"/>
<rect x="994" y="634" width="3" height="61" fill="#00ff00"/>
<rect x="1010" y="634" width="3" height="69" fill="#00ff00"/>
<rect x="1026" y="634" width="3" height="70" fill="#00ff00"/>
<rect x="1042" y="634" width="3" height="75" fill="#00ff00"/>
<rect x="1058" y="634" width="3" height="73" fill="#00ff00"/>
<rect x="1074" y="634" width="3" height="64" fill="#00ff00"/>
<rect x="1090" y="634" width="3" height="59" fill="#00ff00"/>
<rect x="1106" y="634" width="3" height="60" fill="#00ff00"/>
<rect x="1122" y="634" width="3" height="58" fill="#00ff00"/>
<rect x="1138" y="634" width="3" height="52" fill="#00ff00"/>
<rect x="1154" y="634" width="3" height="49" fill="#00ff00"/>
<rect x="1170" y="634" width="3" height="45" fill="#00ff00"/>
<rect x="1186" y="634" width="3" height="38" fill="#00ff00"/>
<rect x="1202" y="634" width="3" height="21" fill="#00ff00"/>
<rect x="1218" y="634" width="3" height="1" fill="#00ff00"/>
<rect x="1234" y="623" width="3" height="11" fill="#00ff00"/>
<rect x="1250" y="613" width="3" height="21" fill="#00ff00"/>
<rect x="1266" y="605" width="3" height="29" fill="#00ff00"/>
</g>
<polyline fill="none" stroke="#ff0000" stroke-width="2" shape-rendering="crispEdges" points="-13,701.5 3,698 19,694.5 35,689 51,684.7 67,679.8 83,673.5 99,669.9 115,664 131,659.1 147,655.7 163,651.8 179,646.6 195,641.7 211,636.4 227,632.1 243,625.6 259,620.2 275,614.7 291,611.2 307,610.8 323,613.6 339,616.7 355,622.2 371,630.1 387,635.4 403,641.3 419,647.8 435,653.2 451,656.7 467,656.9 483,656.9 499,656.9 515,656.9 531,656.9 547,658.1 563,659.3 579,660.4 595,662.4 611,666.4 627,669.9 643,673.5 659,674.8 675,679.4 691,683.7 707,687.6 723,691.6 739,695.5 755,696.9 771,696.9 787,696.9 803,696.9 819,696.9 835,695.5 851,693 867,691 883,688.6 899,685.9 915,684.1 931,683.3 947,681.7 963,681.1 979,680.7 995,680.7 1011,683.1 1027,686.1 1043,689.6 1059,693.6 1075,695.5 1091,697.5 1107,698.5 1123,698.5 1139,697.9 1155,695.1 1171,692 1187,687.6 1203,682.3 1219,675.8 1235,667.5 1251,658.5 1267,649.8"/>
<polyline fill="none" stroke="#1e90ff" stroke-width="2" shape-rendering="crispEdges" points="-13,783 3,766.6 19,767.8 35,769.8 51,773.5 67,769.8 83,774.7 99,772.2 115,772.6 131,772.6 147,764.3 163,758.8 179,760.3 195,762.5 211,760 227,763.9 243,763.9 259,763.7 275,761.7 291,776.1 307,781 323,784.4 339,784.4 355,784.4 371,780 387,773.7 403,773.7 419,772.8 435,777.1 451,767.8 467,766.8 483,778.5 499,780.6 515,780.6 531,775.1 547,774.7 563,779.7 579,778.7 595,782.6 611,784 627,787.9 643,780 659,779.7 675,787.5 691,786 707,784.6 723,784.6 739,783 755,779.1 771,771.6 787,777.7 803,780.6 819,780.6 835,783 851,779.1 867,777.1 883,777.1 899,774.7 915,776.1 931,778.1 947,782.6 963,786 979,788.9 995,789.9 1011,792.9 1027,785.6 1043,789.9 1059,782 1075,773.7 1091,776.5 1107,781 1123,778.5 1139,775.1 1155,775.7 1171,774.1 1187,771.8 1203,759.9 1219,755.8 1235,761.9 1251,760.9 1267,760.9"/>
<polygon points="1207.3,512.2 1319,364 1316.4,360.9 1332.8,353 1328.8,370.8 1326.1,369.3 1208.4,512.6" fill="#fa3c3c"/>
<g font-family="Liberation Sans, sans-serif" text-rendering="geometricPrecision">
<text x="1632" y="33" font-size="10" fill="#000" stroke="#000" stroke-width="0.2" textLength="34" lengthAdjust="spacingAndGlyphs">0.70235</text>
<text x="1632" y="66" font-size="10" fill="#000" stroke="#000" stroke-width="0.2" textLength="34" lengthAdjust="spacingAndGlyphs">0.70040</text>
<text x="1632" y="99" font-size="10" fill="#000" stroke="#000" stroke-width="0.2" textLength="34" lengthAdjust="spacingAndGlyphs">0.69845</text>
<text x="1632" y="132" font-size="10" fill="#000" stroke="#000" stroke-width="0.2" textLength="34" lengthAdjust="spacingAndGlyphs">0.69650</text>
<text x="1632" y="165" font-size="10" fill="#000" stroke="#000" stroke-width="0.2" textLength="34" lengthAdjust="spacingAndGlyphs">0.69455</text>
<text x="1632" y="198" font-size="10" fill="#000" stroke="#000" stroke-width="0.2" textLength="34" lengthAdjust="spacingAndGlyphs">0.69260</text>
<text x="1632" y="231" font-size="10" fill="#000" stroke="#000" stroke-width="0.2" textLength="34" lengthAdjust="spacingAndGlyphs">0.69065</text>
<text x="1632" y="264" font-size="10" fill="#000" stroke="#000" stroke-width="0.2" textLength="34" lengthAdjust="spacingAndGlyphs">0.68870</text>
<text x="1632" y="297" font-size="10" fill="#000" stroke="#000" stroke-width="0.2" textLength="34" lengthAdjust="spacingAndGlyphs">0.68675</text>
<text x="1632" y="330" font-size="10" fill="#000" stroke="#000" stroke-width="0.2" textLength="34" lengthAdjust="spacingAndGlyphs">0.68480</text>
<text x="1632" y="363" font-size="10" fill="#000" stroke="#000" stroke-width="0.2" textLength="34" lengthAdjust="spacingAndGlyphs">0.68285</text>
<text x="1632" y="396" font-size="10" fill="#000" stroke="#000" stroke-width="0.2" textLength="34" lengthAdjust="spacingAndGlyphs">0.68085</text>
<text x="1632" y="429" font-size="10" fill="#000" stroke="#000" stroke-width="0.2" textLength="34" lengthAdjust="spacingAndGlyphs">0.67890</text>
<text x="1632" y="462" font-size="10" fill="#000" stroke="#000" stroke-width="0.2" textLength="34" lengthAdjust="spacingAndGlyphs">0.67695</text>
<text x="1632" y="495" font-size="10" fill="#000" stroke="#000" stroke-width="0.2" textLength="34" lengthAdjust="spacingAndGlyphs">0.67500</text>
<text x="1632" y="528" font-size="10" fill="#000" stroke="#000" stroke-width="0.2" textLength="34" lengthAdjust="spacingAndGlyphs">0.67305</text>
<text x="1632" y="561" font-size="10" fill="#000" stroke="#000" stroke-width="0.2" textLength="34" lengthAdjust="spacingAndGlyphs">0.67110</text>
<text x="1632" y="594" font-size="10" fill="#000" stroke="#000" stroke-width="0.2" textLength="34" lengthAdjust="spacingAndGlyphs">0.66915</text>
<rect x="1628" y="259" width="41" height="11" fill="#ff0000" shape-rendering="crispEdges"/>
<text x="1632" y="268" font-size="10" fill="#fff" stroke="#fff" stroke-width="0.2" textLength="34" lengthAdjust="spacingAndGlyphs">0.68839</text>
<rect x="1628" y="296" width="41" height="11" fill="#ff0000" shape-rendering="crispEdges"/>
<text x="1632" y="305" font-size="10" fill="#fff" stroke="#fff" stroke-width="0.2" textLength="34" lengthAdjust="spacingAndGlyphs">0.68620</text>
<rect x="1628" y="334" width="41" height="11" fill="#000000" shape-rendering="crispEdges"/>
<text x="1632" y="343" font-size="10" fill="#fff" stroke="#fff" stroke-width="0.2" textLength="34" lengthAdjust="spacingAndGlyphs">0.68400</text>
<rect x="1628" y="351" width="41" height="11" fill="#ffa500" shape-rendering="crispEdges"/>
<text x="1632" y="360" font-size="10" fill="#fff" stroke="#fff" stroke-width="0.2" textLength="34" lengthAdjust="spacingAndGlyphs">0.68295</text>
<rect x="1628" y="392" width="41" height="11" fill="#0000ff" shape-rendering="crispEdges"/>
<text x="1632" y="401" font-size="10" fill="#fff" stroke="#fff" stroke-width="0.2" textLength="34" lengthAdjust="spacingAndGlyphs">0.68053</text>
<rect x="1628" y="430" width="41" height="11" fill="#0000ff" shape-rendering="crispEdges"/>
<text x="1632" y="439" font-size="10" fill="#fff" stroke="#fff" stroke-width="0.2" textLength="34" lengthAdjust="spacingAndGlyphs">0.67828</text>
<text x="1630" y="606" font-size="10" fill="#000" stroke="#000" stroke-width="0.2" textLength="38" lengthAdjust="spacingAndGlyphs">0.001601</text>
<text x="1630" y="638" font-size="10" fill="#000" stroke="#000" stroke-width="0.2" textLength="18" lengthAdjust="spacingAndGlyphs">0.00</text>
<text x="1630" y="711" font-size="10" fill="#000" stroke="#000" stroke-width="0.2" textLength="41" lengthAdjust="spacingAndGlyphs">-0.003435</text>
<text x="1630" y="727" font-size="10" fill="#000" stroke="#000" stroke-width="0.2" textLength="15.5" lengthAdjust="spacingAndGlyphs">100</text>
<text x="1629" y="743" font-size="10" fill="#000" stroke="#000" stroke-width="0.2" textLength="10.5" lengthAdjust="spacingAndGlyphs">80</text>
<text x="1629" y="774" font-size="10" fill="#000" stroke="#000" stroke-width="0.2" textLength="10.5" lengthAdjust="spacingAndGlyphs">50</text>
<text x="1629.5" y="812" font-size="10" fill="#000" stroke="#000" stroke-width="0.2" textLength="10" lengthAdjust="spacingAndGlyphs">15</text>
<text x="1630" y="821" font-size="10" fill="#000" stroke="#000" stroke-width="0.2" textLength="5" lengthAdjust="spacingAndGlyphs">0</text>
<text x="3" y="39" font-size="10" fill="#000" stroke="#000" stroke-width="0.2" textLength="59" lengthAdjust="spacingAndGlyphs">AUDUSD-,H4</text>
<text x="67" y="39" font-size="10" fill="#000" stroke="#000" stroke-width="0.2" textLength="33.5" lengthAdjust="spacingAndGlyphs">0.68445</text>
<text x="103" y="39" font-size="10" fill="#000" stroke="#000" stroke-width="0.2" textLength="33.5" lengthAdjust="spacingAndGlyphs">0.68476</text>
<text x="139" y="39" font-size="10" fill="#000" stroke="#000" stroke-width="0.2" textLength="33.5" lengthAdjust="spacingAndGlyphs">0.68341</text>
<text x="175" y="39" font-size="10" fill="#000" stroke="#000" stroke-width="0.2" textLength="33.5" lengthAdjust="spacingAndGlyphs">0.68400</text>
<text x="-8.5" y="608" font-size="10" fill="#000" stroke="#000" stroke-width="0.2" textLength="66" lengthAdjust="spacingAndGlyphs">MACD(12,26,9)</text>
<text x="60.6" y="608" font-size="10" fill="#000" stroke="#000" stroke-width="0.2" textLength="37.3" lengthAdjust="spacingAndGlyphs">0.001219</text>
<text x="101" y="608" font-size="10" fill="#000" stroke="#000" stroke-width="0.2" textLength="41.3" lengthAdjust="spacingAndGlyphs">-0.000676</text>
<text x="-9.3" y="729" font-size="10" fill="#000" stroke="#000" stroke-width="0.2" textLength="32.3" lengthAdjust="spacingAndGlyphs">RSI(14)</text>
<text x="25.9" y="729" font-size="10" fill="#000" stroke="#000" stroke-width="0.2" textLength="33.5" lengthAdjust="spacingAndGlyphs">59.3863</text>
<text x="-14" y="837" font-size="10" fill="#000" stroke="#000" stroke-width="0.2" textLength="54" lengthAdjust="spacingAndGlyphs">23 Aug 2022</text>
<text x="50" y="837" font-size="10" fill="#000" stroke="#000" stroke-width="0.2" textLength="57" lengthAdjust="spacingAndGlyphs">24 Aug 00:00</text>
<text x="114" y="837" font-size="10" fill="#000" stroke="#000" stroke-width="0.2" textLength="57" lengthAdjust="spacingAndGlyphs">24 Aug 16:00</text>
<text x="178" y="837" font-size="10" fill="#000" stroke="#000" stroke-width="0.2" textLength="57" lengthAdjust="spacingAndGlyphs">25 Aug 08:00</text>
<text x="242" y="837" font-size="10" fill="#000" stroke="#000" stroke-width="0.2" textLength="57" lengthAdjust="spacingAndGlyphs">26 Aug 00:00</text>
<text x="306" y="837" font-size="10" fill="#000" stroke="#000" stroke-width="0.2" textLength="57" lengthAdjust="spacingAndGlyphs">26 Aug 16:00</text>
<text x="370" y="837" font-size="10" fill="#000" stroke="#000" stroke-width="0.2" textLength="57" lengthAdjust="spacingAndGlyphs">29 Aug 08:00</text>
<text x="434" y="837" font-size="10" fill="#000" stroke="#000" stroke-width="0.2" textLength="57" lengthAdjust="spacingAndGlyphs">30 Aug 00:00</text>
<text x="498" y="837" font-size="10" fill="#000" stroke="#000" stroke-width="0.2" textLength="57" lengthAdjust="spacingAndGlyphs">30 Aug 16:00</text>
<text x="562" y="837" font-size="10" fill="#000" stroke="#000" stroke-width="0.2" textLength="57" lengthAdjust="spacingAndGlyphs">31 Aug 08:00</text>
<text x="626" y="837" font-size="10" fill="#000" stroke="#000" stroke-width="0.2" textLength="51" lengthAdjust="spacingAndGlyphs">1 Sep 00:00</text>
<text x="690" y="837" font-size="10" fill="#000" stroke="#000" stroke-width="0.2" textLength="51" lengthAdjust="spacingAndGlyphs">1 Sep 16:00</text>
<text x="754" y="837" font-size="10" fill="#000" stroke="#000" stroke-width="0.2" textLength="51" lengthAdjust="spacingAndGlyphs">2 Sep 08:00</text>
<text x="818" y="837" font-size="10" fill="#000" stroke="#000" stroke-width="0.2" textLength="51" lengthAdjust="spacingAndGlyphs">5 Sep 00:00</text>
<text x="882" y="837" font-size="10" fill="#000" stroke="#000" stroke-width="0.2" textLength="51" lengthAdjust="spacingAndGlyphs">5 Sep 16:00</text>
<text x="946" y="837" font-size="10" fill="#000" stroke="#000" stroke-width="0.2" textLength="51" lengthAdjust="spacingAndGlyphs">6 Sep 08:00</text>
<text x="1010" y="837" font-size="10" fill="#000" stroke="#000" stroke-width="0.2" textLength="51" lengthAdjust="spacingAndGlyphs">7 Sep 00:00</text>
<text x="1074" y="837" font-size="10" fill="#000" stroke="#000" stroke-width="0.2" textLength="51" lengthAdjust="spacingAndGlyphs">7 Sep 16:00</text>
<text x="1138" y="837" font-size="10" fill="#000" stroke="#000" stroke-width="0.2" textLength="51" lengthAdjust="spacingAndGlyphs">8 Sep 08:00</text>
<text x="1202" y="837" font-size="10" fill="#000" stroke="#000" stroke-width="0.2" textLength="51" lengthAdjust="spacingAndGlyphs">9 Sep 00:00</text>
<text x="1266" y="837" font-size="10" fill="#000" stroke="#000" stroke-width="0.2" textLength="51" lengthAdjust="spacingAndGlyphs">9 Sep 16:00</text>
</g>
</svg>
</body></html>
